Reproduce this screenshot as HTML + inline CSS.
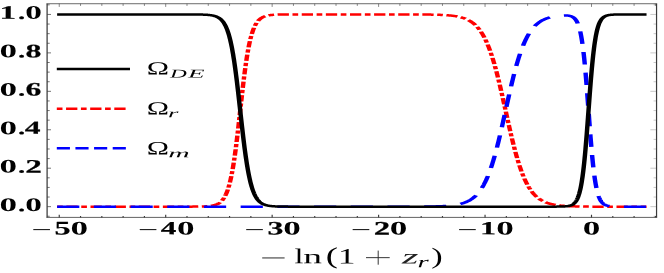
<!DOCTYPE html><html><head><meta charset="utf-8"><style>html,body{margin:0;padding:0;background:#fff}body{width:664px;height:273px;overflow:hidden;font-family:"Liberation Serif",serif}</style></head><body><svg width="664" height="273" viewBox="0 0 664 273" style="display:block;font-family:'Liberation Serif',serif">
<rect width="664" height="273" fill="#fff"/>
<g transform="scale(1.78,1)" fill="none" stroke-width="2.5" stroke-linejoin="round">
<path d="M32.09,206.65 L32.33,206.65 L32.56,206.65 L32.80,206.65 L33.04,206.65 L33.27,206.65 L33.51,206.65 L33.75,206.65 L33.98,206.65 L34.22,206.65 L34.46,206.65 L34.69,206.65 L34.93,206.65 L35.17,206.65 L35.40,206.65 L35.64,206.65 L35.87,206.65 L36.11,206.65 L36.35,206.65 L36.58,206.65 L36.82,206.65 L37.06,206.65 L37.29,206.65 L37.53,206.65 L37.77,206.65 L38.00,206.65 L38.24,206.65 L38.48,206.65 L38.71,206.65 L38.95,206.65 L39.19,206.65 L39.42,206.65 L39.66,206.65 L39.90,206.65 L40.13,206.65 L40.37,206.65 L40.61,206.65 L40.84,206.65 L41.08,206.65 L41.31,206.65 L41.55,206.65 L41.79,206.65 L42.02,206.65 L42.26,206.65 L42.50,206.65 L42.73,206.65 L42.97,206.65 L43.21,206.65 L43.44,206.65 L43.68,206.65 L43.92,206.65 L44.15,206.65 L44.39,206.65 L44.63,206.65 L44.86,206.65 L45.10,206.65 L45.34,206.65 L45.57,206.65 L45.81,206.65 L46.05,206.65 L46.28,206.65 L46.52,206.65 L46.75,206.65 L46.99,206.65 L47.23,206.65 L47.46,206.65 L47.70,206.65 L47.94,206.65 L48.17,206.65 L48.41,206.65 L48.65,206.65 L48.88,206.65 L49.12,206.65 L49.36,206.65 L49.59,206.65 L49.83,206.65 L50.07,206.65 L50.30,206.65 L50.54,206.65 L50.78,206.65 L51.01,206.65 L51.25,206.65 L51.49,206.65 L51.72,206.65 L51.96,206.65 L52.19,206.65 L52.43,206.65 L52.67,206.65 L52.90,206.65 L53.14,206.65 L53.38,206.65 L53.61,206.65 L53.85,206.65 L54.09,206.65 L54.32,206.65 L54.56,206.65 L54.80,206.65 L55.03,206.65 L55.27,206.65 L55.51,206.65 L55.74,206.65 L55.98,206.65 L56.22,206.65 L56.45,206.65 L56.69,206.65 L56.93,206.65 L57.16,206.65 L57.40,206.65 L57.63,206.65 L57.87,206.65 L58.11,206.65 L58.34,206.65 L58.58,206.65 L58.82,206.65 L59.05,206.65 L59.29,206.65 L59.53,206.65 L59.76,206.65 L60.00,206.65 L60.24,206.65 L60.47,206.65 L60.71,206.65 L60.95,206.65 L61.18,206.65 L61.42,206.65 L61.66,206.65 L61.89,206.65 L62.13,206.65 L62.37,206.65 L62.60,206.65 L62.84,206.65 L63.07,206.65 L63.31,206.65 L63.55,206.65 L63.78,206.65 L64.02,206.65 L64.26,206.65 L64.49,206.65 L64.73,206.65 L64.97,206.65 L65.20,206.65 L65.44,206.65 L65.68,206.65 L65.91,206.65 L66.15,206.65 L66.39,206.65 L66.62,206.65 L66.86,206.65 L67.10,206.65 L67.33,206.65 L67.57,206.65 L67.81,206.65 L68.04,206.65 L68.28,206.65 L68.51,206.65 L68.75,206.65 L68.99,206.65 L69.22,206.65 L69.46,206.65 L69.70,206.65 L69.93,206.65 L70.17,206.65 L70.41,206.65 L70.64,206.65 L70.88,206.65 L71.12,206.65 L71.35,206.65 L71.59,206.65 L71.83,206.65 L72.06,206.65 L72.30,206.65 L72.54,206.65 L72.77,206.65 L73.01,206.65 L73.25,206.65 L73.48,206.65 L73.72,206.65 L73.95,206.65 L74.19,206.65 L74.43,206.65 L74.66,206.65 L74.90,206.65 L75.14,206.65 L75.37,206.65 L75.61,206.65 L75.85,206.65 L76.08,206.65 L76.32,206.65 L76.56,206.65 L76.79,206.65 L77.03,206.65 L77.27,206.65 L77.50,206.65 L77.74,206.65 L77.98,206.65 L78.21,206.65 L78.45,206.65 L78.69,206.65 L78.92,206.65 L79.16,206.65 L79.39,206.65 L79.63,206.65 L79.87,206.65 L80.10,206.65 L80.34,206.65 L80.58,206.65 L80.81,206.65 L81.05,206.65 L81.29,206.65 L81.52,206.65 L81.76,206.65 L82.00,206.65 L82.23,206.65 L82.47,206.65 L82.71,206.65 L82.94,206.65 L83.18,206.65 L83.42,206.65 L83.65,206.65 L83.89,206.65 L84.13,206.65 L84.36,206.65 L84.60,206.65 L84.83,206.65 L85.07,206.65 L85.31,206.65 L85.54,206.65 L85.78,206.65 L86.02,206.65 L86.25,206.65 L86.49,206.65 L86.73,206.65 L86.96,206.65 L87.20,206.65 L87.44,206.65 L87.67,206.65 L87.91,206.65 L88.15,206.65 L88.38,206.65 L88.62,206.65 L88.86,206.65 L89.09,206.65 L89.33,206.65 L89.57,206.65 L89.80,206.65 L90.04,206.65 L90.27,206.65 L90.51,206.65 L90.75,206.65 L90.98,206.65 L91.22,206.65 L91.46,206.65 L91.69,206.65 L91.93,206.65 L92.17,206.65 L92.40,206.65 L92.64,206.65 L92.88,206.65 L93.11,206.65 L93.35,206.65 L93.59,206.65 L93.82,206.65 L94.06,206.65 L94.30,206.65 L94.53,206.65 L94.77,206.65 L95.01,206.65 L95.24,206.65 L95.48,206.65 L95.71,206.65 L95.95,206.65 L96.19,206.65 L96.42,206.65 L96.66,206.65 L96.90,206.65 L97.13,206.65 L97.37,206.65 L97.61,206.65 L97.84,206.65 L98.08,206.65 L98.32,206.65 L98.55,206.65 L98.79,206.65 L99.03,206.65 L99.26,206.65 L99.50,206.65 L99.74,206.65 L99.97,206.65 L100.21,206.65 L100.45,206.65 L100.68,206.65 L100.92,206.65 L101.15,206.65 L101.39,206.65 L101.63,206.65 L101.86,206.65 L102.10,206.65 L102.34,206.65 L102.57,206.65 L102.81,206.65 L103.05,206.65 L103.28,206.65 L103.52,206.64 L103.76,206.64 L103.99,206.64 L104.23,206.64 L104.47,206.64 L104.70,206.64 L104.94,206.64 L105.18,206.64 L105.41,206.64 L105.65,206.64 L105.89,206.64 L106.12,206.64 L106.36,206.64 L106.59,206.64 L106.83,206.63 L107.07,206.63 L107.30,206.63 L107.54,206.63 L107.78,206.63 L108.01,206.63 L108.25,206.62 L108.49,206.62 L108.72,206.62 L108.96,206.62 L109.20,206.62 L109.43,206.61 L109.67,206.61 L109.91,206.61 L110.14,206.60 L110.38,206.60 L110.62,206.59 L110.85,206.59 L111.09,206.58 L111.33,206.58 L111.56,206.57 L111.80,206.57 L112.03,206.56 L112.27,206.55 L112.51,206.54 L112.74,206.54 L112.98,206.53 L113.22,206.52 L113.45,206.51 L113.69,206.49 L113.93,206.48 L114.16,206.47 L114.40,206.45 L114.64,206.43 L114.87,206.42 L115.11,206.40 L115.35,206.38 L115.58,206.35 L115.82,206.33 L116.06,206.30 L116.29,206.28 L116.53,206.25 L116.77,206.21 L117.00,206.18 L117.24,206.14 L117.48,206.10 L117.71,206.05 L117.95,206.00 L118.18,205.95 L118.42,205.89 L118.66,205.83 L118.89,205.76 L119.13,205.69 L119.37,205.61 L119.60,205.52 L119.84,205.43 L120.08,205.33 L120.31,205.22 L120.55,205.11 L120.79,204.98 L121.02,204.84 L121.26,204.70 L121.50,204.54 L121.73,204.37 L121.97,204.18 L122.21,203.98 L122.44,203.76 L122.68,203.53 L122.92,203.28 L123.15,203.01 L123.39,202.71 L123.62,202.40 L123.86,202.05 L124.10,201.69 L124.33,201.29 L124.57,200.86 L124.81,200.40 L125.04,199.90 L125.28,199.37 L125.52,198.79 L125.75,198.18 L125.99,197.51 L126.23,196.80 L126.46,196.03 L126.70,195.21 L126.94,194.33 L127.17,193.38 L127.41,192.37 L127.65,191.29 L127.88,190.14 L128.12,188.90 L128.36,187.59 L128.59,186.18 L128.83,184.69 L129.06,183.11 L129.30,181.42 L129.54,179.64 L129.77,177.75 L130.01,175.75 L130.25,173.65 L130.48,171.43 L130.72,169.09 L130.96,166.65 L131.19,164.08 L131.43,161.40 L131.67,158.61 L131.90,155.70 L132.14,152.69 L132.38,149.57 L132.61,146.34 L132.85,143.02 L133.09,139.61 L133.32,136.12 L133.56,132.55 L133.80,128.92 L134.03,125.23 L134.27,121.50 L134.50,117.73 L134.74,113.94 L134.98,110.14 L135.21,106.34 L135.45,102.56 L135.69,98.80 L135.92,95.07 L136.16,91.40 L136.40,87.78 L136.63,84.23 L136.87,80.75 L137.11,77.36 L137.34,74.06 L137.58,70.85 L137.82,67.75 L138.05,64.76 L138.29,61.88 L138.53,59.11 L138.76,56.46 L139.00,53.92 L139.24,51.49 L139.47,49.19 L139.71,46.99 L139.94,44.91 L140.18,42.94 L140.42,41.07 L140.65,39.31 L140.89,37.64 L141.13,36.08 L141.36,34.61 L141.60,33.22 L141.84,31.93 L142.07,30.71 L142.31,29.57 L142.55,28.50 L142.78,27.51 L143.02,26.58 L143.26,25.71 L143.49,24.90 L143.73,24.14 L143.97,23.44 L144.20,22.79 L144.44,22.18 L144.68,21.61 L144.91,21.09 L145.15,20.60 L145.38,20.14 L145.62,19.72 L145.86,19.33 L146.09,18.97 L146.33,18.63 L146.57,18.32 L146.80,18.03 L147.04,17.77 L147.28,17.52 L147.51,17.29 L147.75,17.07 L147.99,16.88 L148.22,16.69 L148.46,16.53 L148.70,16.37 L148.93,16.23 L149.17,16.09 L149.41,15.97 L149.64,15.85 L149.88,15.75 L150.12,15.65 L150.35,15.56 L150.59,15.47 L150.82,15.40 L151.06,15.33 L151.30,15.26 L151.53,15.20 L151.77,15.14 L152.01,15.09 L152.24,15.04 L152.48,15.00 L152.72,14.95 L152.95,14.92 L153.19,14.88 L153.43,14.85 L153.66,14.82 L153.90,14.79 L154.14,14.76 L154.37,14.74 L154.61,14.72 L154.85,14.70 L155.08,14.68 L155.32,14.66 L155.56,14.65 L155.79,14.63 L156.03,14.62 L156.26,14.60 L156.50,14.59 L156.74,14.58 L156.97,14.57 L157.21,14.56 L157.45,14.55 L157.68,14.55 L157.92,14.54 L158.16,14.53 L158.39,14.53 L158.63,14.52 L158.87,14.51 L159.10,14.51 L159.34,14.51 L159.58,14.50 L159.81,14.50 L160.05,14.49 L160.29,14.49 L160.52,14.49 L160.76,14.48 L161.00,14.48 L161.23,14.48 L161.47,14.48 L161.70,14.48 L161.94,14.47 L162.18,14.47 L162.41,14.47 L162.65,14.47 L162.89,14.47 L163.12,14.47 L163.36,14.46 L163.60,14.46 L163.83,14.46 L164.07,14.46 L164.31,14.46 L164.54,14.46 L164.78,14.46 L165.02,14.46 L165.25,14.46 L165.49,14.46 L165.73,14.46 L165.96,14.46 L166.20,14.46 L166.44,14.46 L166.67,14.45 L166.91,14.45 L167.14,14.45 L167.38,14.45 L167.62,14.45 L167.85,14.45 L168.09,14.45 L168.33,14.45 L168.56,14.45 L168.80,14.45 L169.04,14.45 L169.27,14.45 L169.51,14.45 L169.75,14.45 L169.98,14.45 L170.22,14.45 L170.46,14.45 L170.69,14.45 L170.93,14.45 L171.17,14.45 L171.40,14.45 L171.64,14.45 L171.88,14.45 L172.11,14.45 L172.35,14.45 L172.58,14.45 L172.82,14.45 L173.06,14.45 L173.29,14.45 L173.53,14.45 L173.77,14.45 L174.00,14.45 L174.24,14.45 L174.48,14.45 L174.71,14.45 L174.95,14.45 L175.19,14.45 L175.42,14.45 L175.66,14.45 L175.90,14.45 L176.13,14.45 L176.37,14.45 L176.61,14.45 L176.84,14.45 L177.08,14.45 L177.32,14.45 L177.55,14.45 L177.79,14.45 L178.02,14.45 L178.26,14.45 L178.50,14.45 L178.73,14.45 L178.97,14.45 L179.21,14.45 L179.44,14.45 L179.68,14.45 L179.92,14.45 L180.15,14.45 L180.39,14.45 L180.63,14.45 L180.86,14.45 L181.10,14.45 L181.34,14.45 L181.57,14.45 L181.81,14.45 L182.05,14.45 L182.28,14.45 L182.52,14.45 L182.76,14.45 L182.99,14.45 L183.23,14.45 L183.46,14.45 L183.70,14.45 L183.94,14.45 L184.17,14.45 L184.41,14.45 L184.65,14.45 L184.88,14.45 L185.12,14.45 L185.36,14.45 L185.59,14.45 L185.83,14.45 L186.07,14.45 L186.30,14.45 L186.54,14.45 L186.78,14.45 L187.01,14.45 L187.25,14.45 L187.49,14.45 L187.72,14.45 L187.96,14.45 L188.20,14.45 L188.43,14.45 L188.67,14.45 L188.90,14.45 L189.14,14.45 L189.38,14.45 L189.61,14.45 L189.85,14.45 L190.09,14.45 L190.32,14.45 L190.56,14.45 L190.80,14.45 L191.03,14.45 L191.27,14.45 L191.51,14.45 L191.74,14.45 L191.98,14.45 L192.22,14.45 L192.45,14.45 L192.69,14.45 L192.93,14.45 L193.16,14.45 L193.40,14.45 L193.64,14.45 L193.87,14.45 L194.11,14.45 L194.34,14.45 L194.58,14.45 L194.82,14.45 L195.05,14.45 L195.29,14.45 L195.53,14.45 L195.76,14.45 L196.00,14.45 L196.24,14.45 L196.47,14.45 L196.71,14.45 L196.95,14.45 L197.18,14.45 L197.42,14.45 L197.66,14.45 L197.89,14.45 L198.13,14.45 L198.37,14.45 L198.60,14.45 L198.84,14.45 L199.08,14.45 L199.31,14.45 L199.55,14.45 L199.78,14.45 L200.02,14.45 L200.26,14.45 L200.49,14.45 L200.73,14.45 L200.97,14.45 L201.20,14.45 L201.44,14.45 L201.68,14.45 L201.91,14.45 L202.15,14.45 L202.39,14.45 L202.62,14.45 L202.86,14.45 L203.10,14.45 L203.33,14.45 L203.57,14.45 L203.81,14.45 L204.04,14.45 L204.28,14.45 L204.52,14.45 L204.75,14.45 L204.99,14.45 L205.22,14.45 L205.46,14.45 L205.70,14.45 L205.93,14.45 L206.17,14.45 L206.41,14.45 L206.64,14.45 L206.88,14.45 L207.12,14.45 L207.35,14.45 L207.59,14.45 L207.83,14.45 L208.06,14.45 L208.30,14.45 L208.54,14.45 L208.77,14.45 L209.01,14.45 L209.25,14.45 L209.48,14.45 L209.72,14.45 L209.96,14.45 L210.19,14.45 L210.43,14.45 L210.66,14.45 L210.90,14.45 L211.14,14.45 L211.37,14.45 L211.61,14.45 L211.85,14.45 L212.08,14.45 L212.32,14.45 L212.56,14.45 L212.79,14.45 L213.03,14.45 L213.27,14.45 L213.50,14.45 L213.74,14.45 L213.98,14.45 L214.21,14.45 L214.45,14.45 L214.69,14.45 L214.92,14.45 L215.16,14.45 L215.40,14.45 L215.63,14.45 L215.87,14.45 L216.10,14.45 L216.34,14.45 L216.58,14.45 L216.81,14.45 L217.05,14.45 L217.29,14.45 L217.52,14.45 L217.76,14.45 L218.00,14.45 L218.23,14.45 L218.47,14.45 L218.71,14.45 L218.94,14.45 L219.18,14.45 L219.42,14.45 L219.65,14.45 L219.89,14.45 L220.13,14.45 L220.36,14.45 L220.60,14.45 L220.84,14.45 L221.07,14.46 L221.31,14.46 L221.54,14.46 L221.78,14.46 L222.02,14.46 L222.25,14.46 L222.49,14.46 L222.73,14.46 L222.96,14.46 L223.20,14.46 L223.44,14.46 L223.67,14.46 L223.91,14.46 L224.15,14.46 L224.38,14.46 L224.62,14.46 L224.86,14.46 L225.09,14.46 L225.33,14.46 L225.57,14.46 L225.80,14.46 L226.04,14.46 L226.28,14.46 L226.51,14.46 L226.75,14.46 L226.98,14.46 L227.22,14.46 L227.46,14.46 L227.69,14.47 L227.93,14.47 L228.17,14.47 L228.40,14.47 L228.64,14.47 L228.88,14.47 L229.11,14.47 L229.35,14.47 L229.59,14.47 L229.82,14.47 L230.06,14.47 L230.30,14.47 L230.53,14.47 L230.77,14.48 L231.01,14.48 L231.24,14.48 L231.48,14.48 L231.72,14.48 L231.95,14.48 L232.19,14.48 L232.42,14.48 L232.66,14.49 L232.90,14.49 L233.13,14.49 L233.37,14.49 L233.61,14.49 L233.84,14.49 L234.08,14.50 L234.32,14.50 L234.55,14.50 L234.79,14.50 L235.03,14.50 L235.26,14.51 L235.50,14.51 L235.74,14.51 L235.97,14.51 L236.21,14.51 L236.45,14.52 L236.68,14.52 L236.92,14.52 L237.16,14.53 L237.39,14.53 L237.63,14.53 L237.86,14.54 L238.10,14.54 L238.34,14.54 L238.57,14.55 L238.81,14.55 L239.05,14.55 L239.28,14.56 L239.52,14.56 L239.76,14.57 L239.99,14.57 L240.23,14.58 L240.47,14.58 L240.70,14.59 L240.94,14.59 L241.18,14.60 L241.41,14.60 L241.65,14.61 L241.89,14.62 L242.12,14.62 L242.36,14.63 L242.60,14.64 L242.83,14.65 L243.07,14.65 L243.30,14.66 L243.54,14.67 L243.78,14.68 L244.01,14.69 L244.25,14.70 L244.49,14.71 L244.72,14.72 L244.96,14.73 L245.20,14.74 L245.43,14.75 L245.67,14.76 L245.91,14.78 L246.14,14.79 L246.38,14.80 L246.62,14.82 L246.85,14.83 L247.09,14.85 L247.33,14.86 L247.56,14.88 L247.80,14.90 L248.04,14.92 L248.27,14.93 L248.51,14.95 L248.74,14.97 L248.98,15.00 L249.22,15.02 L249.45,15.04 L249.69,15.06 L249.93,15.09 L250.16,15.11 L250.40,15.14 L250.64,15.17 L250.87,15.20 L251.11,15.23 L251.35,15.26 L251.58,15.29 L251.82,15.32 L252.06,15.36 L252.29,15.40 L252.53,15.43 L252.77,15.47 L253.00,15.51 L253.24,15.56 L253.48,15.60 L253.71,15.65 L253.95,15.70 L254.18,15.75 L254.42,15.80 L254.66,15.85 L254.89,15.91 L255.13,15.97 L255.37,16.03 L255.60,16.09 L255.84,16.16 L256.08,16.22 L256.31,16.29 L256.55,16.37 L256.79,16.44 L257.02,16.52 L257.26,16.61 L257.50,16.69 L257.73,16.78 L257.97,16.88 L258.21,16.97 L258.44,17.07 L258.68,17.18 L258.92,17.29 L259.15,17.40 L259.39,17.51 L259.62,17.64 L259.86,17.76 L260.10,17.89 L260.33,18.03 L260.57,18.17 L260.81,18.32 L261.04,18.47 L261.28,18.63 L261.52,18.80 L261.75,18.97 L261.99,19.14 L262.23,19.33 L262.46,19.52 L262.70,19.72 L262.94,19.93 L263.17,20.14 L263.41,20.36 L263.65,20.59 L263.88,20.83 L264.12,21.08 L264.36,21.34 L264.59,21.61 L264.83,21.89 L265.06,22.17 L265.30,22.47 L265.54,22.78 L265.77,23.10 L266.01,23.44 L266.25,23.78 L266.48,24.14 L266.72,24.51 L266.96,24.89 L267.19,25.29 L267.43,25.70 L267.67,26.13 L267.90,26.57 L268.14,27.03 L268.38,27.50 L268.61,27.99 L268.85,28.49 L269.09,29.02 L269.32,29.56 L269.56,30.12 L269.80,30.70 L270.03,31.30 L270.27,31.91 L270.50,32.55 L270.74,33.21 L270.98,33.89 L271.21,34.59 L271.45,35.32 L271.69,36.06 L271.92,36.84 L272.16,37.63 L272.40,38.45 L272.63,39.29 L272.87,40.16 L273.11,41.05 L273.34,41.97 L273.58,42.92 L273.82,43.89 L274.05,44.89 L274.29,45.92 L274.53,46.97 L274.76,48.05 L275.00,49.17 L275.24,50.30 L275.47,51.47 L275.71,52.67 L275.94,53.89 L276.18,55.15 L276.42,56.43 L276.65,57.74 L276.89,59.09 L277.13,60.45 L277.36,61.85 L277.60,63.28 L277.84,64.73 L278.07,66.22 L278.31,67.73 L278.55,69.26 L278.78,70.82 L279.02,72.41 L279.26,74.03 L279.49,75.66 L279.73,77.33 L279.97,79.01 L280.20,80.72 L280.44,82.44 L280.68,84.19 L280.91,85.96 L281.15,87.74 L281.38,89.55 L281.62,91.36 L281.86,93.19 L282.09,95.04 L282.33,96.90 L282.57,98.76 L282.80,100.64 L283.04,102.52 L283.28,104.41 L283.51,106.31 L283.75,108.21 L283.99,110.11 L284.22,112.01 L284.46,113.90 L284.70,115.80 L284.93,117.69 L285.17,119.58 L285.41,121.46 L285.64,123.33 L285.88,125.19 L286.12,127.04 L286.35,128.88 L286.59,130.71 L286.83,132.52 L287.06,134.31 L287.30,136.08 L287.53,137.84 L287.77,139.58 L288.01,141.29 L288.24,142.99 L288.48,144.66 L288.72,146.31 L288.95,147.94 L289.19,149.54 L289.43,151.11 L289.66,152.66 L289.90,154.18 L290.14,155.68 L290.37,157.14 L290.61,158.58 L290.85,159.99 L291.08,161.38 L291.32,162.73 L291.56,164.06 L291.79,165.35 L292.03,166.62 L292.27,167.86 L292.50,169.07 L292.74,170.25 L292.97,171.41 L293.21,172.53 L293.45,173.63 L293.68,174.69 L293.92,175.73 L294.16,176.75 L294.39,177.73 L294.63,178.69 L294.87,179.62 L295.10,180.53 L295.34,181.41 L295.58,182.26 L295.81,183.09 L296.05,183.90 L296.29,184.68 L296.52,185.44 L296.76,186.17 L297.00,186.88 L297.23,187.57 L297.47,188.24 L297.71,188.89 L297.94,189.52 L298.18,190.12 L298.41,190.71 L298.65,191.28 L298.89,191.83 L299.12,192.36 L299.36,192.88 L299.60,193.37 L299.83,193.86 L300.07,194.32 L300.31,194.77 L300.54,195.20 L300.78,195.62 L301.02,196.02 L301.25,196.41 L301.49,196.79 L301.73,197.15 L301.96,197.50 L302.20,197.84 L302.44,198.17 L302.67,198.48 L302.91,198.79 L303.15,199.08 L303.38,199.36 L303.62,199.64 L303.85,199.90 L304.09,200.15 L304.33,200.39 L304.56,200.63 L304.80,200.86 L305.04,201.07 L305.27,201.28 L305.51,201.49 L305.75,201.68 L305.98,201.87 L306.22,202.05 L306.46,202.23 L306.69,202.39 L306.93,202.55 L307.17,202.71 L307.40,202.86 L307.64,203.00 L307.88,203.14 L308.11,203.28 L308.35,203.41 L308.59,203.53 L308.82,203.65 L309.06,203.76 L309.29,203.87 L309.53,203.98 L309.77,204.08 L310.00,204.18 L310.24,204.27 L310.48,204.37 L310.71,204.45 L310.95,204.54 L311.19,204.62 L311.42,204.70 L311.66,204.77 L311.90,204.84 L312.13,204.91 L312.37,204.98 L312.61,205.04 L312.84,205.11 L313.08,205.17 L313.32,205.22 L313.55,205.28 L313.79,205.33 L314.03,205.38 L314.26,205.43 L314.50,205.48 L314.73,205.52 L314.97,205.57 L315.21,205.61 L315.44,205.65 L315.68,205.69 L315.92,205.72 L316.15,205.76 L316.39,205.79 L316.63,205.83 L316.86,205.86 L317.10,205.89 L317.34,205.92 L317.57,205.95 L317.81,205.97 L318.05,206.00 L318.28,206.03 L318.52,206.05 L318.76,206.07 L318.99,206.10 L319.23,206.12 L319.47,206.14 L319.70,206.16 L319.94,206.18 L320.17,206.20 L320.41,206.21 L320.65,206.23 L320.88,206.25 L321.12,206.26 L321.36,206.28 L321.59,206.29 L321.83,206.31 L322.07,206.32 L322.30,206.34 L322.54,206.35 L322.78,206.36 L323.01,206.37 L323.25,206.38 L323.49,206.39 L323.72,206.41 L323.96,206.42 L324.20,206.43 L324.43,206.44 L324.67,206.45 L324.91,206.45 L325.14,206.46 L325.38,206.47 L325.61,206.48 L325.85,206.49 L326.09,206.50 L326.32,206.50 L326.56,206.51 L326.80,206.52 L327.03,206.53 L327.27,206.53 L327.51,206.54 L327.74,206.55 L327.98,206.55 L328.22,206.56 L328.45,206.56 L328.69,206.57 L328.93,206.58 L329.16,206.58 L329.40,206.59 L329.64,206.59 L329.87,206.60 L330.11,206.60 L330.35,206.61 L330.58,206.61 L330.82,206.61 L331.05,206.62 L331.29,206.62 L331.53,206.62 L331.76,206.63 L332.00,206.63 L332.24,206.63 L332.47,206.63 L332.71,206.64 L332.95,206.64 L333.18,206.64 L333.42,206.64 L333.66,206.64 L333.89,206.64 L334.13,206.64 L334.37,206.64 L334.60,206.65 L334.84,206.65 L335.08,206.65 L335.31,206.65 L335.55,206.65 L335.79,206.65 L336.02,206.65 L336.26,206.65 L336.49,206.65 L336.73,206.65 L336.97,206.65 L337.20,206.65 L337.44,206.65 L337.68,206.65 L337.91,206.65 L338.15,206.65 L338.39,206.65 L338.62,206.65 L338.86,206.65 L339.10,206.65 L339.33,206.65 L339.57,206.65 L339.81,206.65 L340.04,206.65 L340.28,206.65 L340.52,206.65 L340.75,206.65 L340.99,206.65 L341.23,206.65 L341.46,206.65 L341.70,206.65 L341.93,206.65 L342.17,206.65 L342.41,206.65 L342.64,206.65 L342.88,206.65 L343.12,206.65 L343.35,206.65 L343.59,206.65 L343.83,206.65 L344.06,206.65 L344.30,206.65 L344.54,206.65 L344.77,206.65 L345.01,206.65 L345.25,206.65 L345.48,206.65 L345.72,206.65 L345.96,206.65 L346.19,206.65 L346.43,206.65 L346.67,206.65 L346.90,206.65 L347.14,206.65 L347.37,206.65 L347.61,206.65 L347.85,206.65 L348.08,206.65 L348.32,206.65 L348.56,206.65 L348.79,206.65 L349.03,206.65 L349.27,206.65 L349.50,206.65 L349.74,206.65 L349.98,206.65 L350.21,206.65 L350.45,206.65 L350.69,206.65 L350.92,206.65 L351.16,206.65 L351.40,206.65 L351.63,206.65 L351.87,206.65 L352.11,206.65 L352.34,206.65 L352.58,206.65 L352.81,206.65 L353.05,206.65 L353.29,206.65 L353.52,206.65 L353.76,206.65 L354.00,206.65 L354.23,206.65 L354.47,206.65 L354.71,206.65 L354.94,206.65 L355.18,206.65 L355.42,206.65 L355.65,206.65 L355.89,206.65 L356.13,206.65 L356.36,206.65 L356.60,206.65 L356.84,206.65 L357.07,206.65 L357.31,206.65 L357.55,206.65 L357.78,206.65 L358.02,206.65 L358.25,206.65 L358.49,206.65 L358.73,206.65 L358.96,206.65 L359.20,206.65 L359.44,206.65 L359.67,206.65 L359.91,206.65 L360.15,206.65 L360.38,206.65 L360.62,206.65 L360.86,206.65 L361.09,206.65 L361.33,206.65 L361.57,206.65 L361.80,206.65 L362.04,206.65 L362.28,206.65 L362.51,206.65 L362.75,206.65 L362.99,206.65 L363.22,206.65" stroke="#f00" stroke-dasharray="3.2 2.0 6.35 2.0"/>
<path d="M32.09,206.65 L32.33,206.65 L32.56,206.65 L32.80,206.65 L33.04,206.65 L33.27,206.65 L33.51,206.65 L33.75,206.65 L33.98,206.65 L34.22,206.65 L34.46,206.65 L34.69,206.65 L34.93,206.65 L35.17,206.65 L35.40,206.65 L35.64,206.65 L35.87,206.65 L36.11,206.65 L36.35,206.65 L36.58,206.65 L36.82,206.65 L37.06,206.65 L37.29,206.65 L37.53,206.65 L37.77,206.65 L38.00,206.65 L38.24,206.65 L38.48,206.65 L38.71,206.65 L38.95,206.65 L39.19,206.65 L39.42,206.65 L39.66,206.65 L39.90,206.65 L40.13,206.65 L40.37,206.65 L40.61,206.65 L40.84,206.65 L41.08,206.65 L41.31,206.65 L41.55,206.65 L41.79,206.65 L42.02,206.65 L42.26,206.65 L42.50,206.65 L42.73,206.65 L42.97,206.65 L43.21,206.65 L43.44,206.65 L43.68,206.65 L43.92,206.65 L44.15,206.65 L44.39,206.65 L44.63,206.65 L44.86,206.65 L45.10,206.65 L45.34,206.65 L45.57,206.65 L45.81,206.65 L46.05,206.65 L46.28,206.65 L46.52,206.65 L46.75,206.65 L46.99,206.65 L47.23,206.65 L47.46,206.65 L47.70,206.65 L47.94,206.65 L48.17,206.65 L48.41,206.65 L48.65,206.65 L48.88,206.65 L49.12,206.65 L49.36,206.65 L49.59,206.65 L49.83,206.65 L50.07,206.65 L50.30,206.65 L50.54,206.65 L50.78,206.65 L51.01,206.65 L51.25,206.65 L51.49,206.65 L51.72,206.65 L51.96,206.65 L52.19,206.65 L52.43,206.65 L52.67,206.65 L52.90,206.65 L53.14,206.65 L53.38,206.65 L53.61,206.65 L53.85,206.65 L54.09,206.65 L54.32,206.65 L54.56,206.65 L54.80,206.65 L55.03,206.65 L55.27,206.65 L55.51,206.65 L55.74,206.65 L55.98,206.65 L56.22,206.65 L56.45,206.65 L56.69,206.65 L56.93,206.65 L57.16,206.65 L57.40,206.65 L57.63,206.65 L57.87,206.65 L58.11,206.65 L58.34,206.65 L58.58,206.65 L58.82,206.65 L59.05,206.65 L59.29,206.65 L59.53,206.65 L59.76,206.65 L60.00,206.65 L60.24,206.65 L60.47,206.65 L60.71,206.65 L60.95,206.65 L61.18,206.65 L61.42,206.65 L61.66,206.65 L61.89,206.65 L62.13,206.65 L62.37,206.65 L62.60,206.65 L62.84,206.65 L63.07,206.65 L63.31,206.65 L63.55,206.65 L63.78,206.65 L64.02,206.65 L64.26,206.65 L64.49,206.65 L64.73,206.65 L64.97,206.65 L65.20,206.65 L65.44,206.65 L65.68,206.65 L65.91,206.65 L66.15,206.65 L66.39,206.65 L66.62,206.65 L66.86,206.65 L67.10,206.65 L67.33,206.65 L67.57,206.65 L67.81,206.65 L68.04,206.65 L68.28,206.65 L68.51,206.65 L68.75,206.65 L68.99,206.65 L69.22,206.65 L69.46,206.65 L69.70,206.65 L69.93,206.65 L70.17,206.65 L70.41,206.65 L70.64,206.65 L70.88,206.65 L71.12,206.65 L71.35,206.65 L71.59,206.65 L71.83,206.65 L72.06,206.65 L72.30,206.65 L72.54,206.65 L72.77,206.65 L73.01,206.65 L73.25,206.65 L73.48,206.65 L73.72,206.65 L73.95,206.65 L74.19,206.65 L74.43,206.65 L74.66,206.65 L74.90,206.65 L75.14,206.65 L75.37,206.65 L75.61,206.65 L75.85,206.65 L76.08,206.65 L76.32,206.65 L76.56,206.65 L76.79,206.65 L77.03,206.65 L77.27,206.65 L77.50,206.65 L77.74,206.65 L77.98,206.65 L78.21,206.65 L78.45,206.65 L78.69,206.65 L78.92,206.65 L79.16,206.65 L79.39,206.65 L79.63,206.65 L79.87,206.65 L80.10,206.65 L80.34,206.65 L80.58,206.65 L80.81,206.65 L81.05,206.65 L81.29,206.65 L81.52,206.65 L81.76,206.65 L82.00,206.65 L82.23,206.65 L82.47,206.65 L82.71,206.65 L82.94,206.65 L83.18,206.65 L83.42,206.65 L83.65,206.65 L83.89,206.65 L84.13,206.65 L84.36,206.65 L84.60,206.65 L84.83,206.65 L85.07,206.65 L85.31,206.65 L85.54,206.65 L85.78,206.65 L86.02,206.65 L86.25,206.65 L86.49,206.65 L86.73,206.65 L86.96,206.65 L87.20,206.65 L87.44,206.65 L87.67,206.65 L87.91,206.65 L88.15,206.65 L88.38,206.65 L88.62,206.65 L88.86,206.65 L89.09,206.65 L89.33,206.65 L89.57,206.65 L89.80,206.65 L90.04,206.65 L90.27,206.65 L90.51,206.65 L90.75,206.65 L90.98,206.65 L91.22,206.65 L91.46,206.65 L91.69,206.65 L91.93,206.65 L92.17,206.65 L92.40,206.65 L92.64,206.65 L92.88,206.65 L93.11,206.65 L93.35,206.65 L93.59,206.65 L93.82,206.65 L94.06,206.65 L94.30,206.65 L94.53,206.65 L94.77,206.65 L95.01,206.65 L95.24,206.65 L95.48,206.65 L95.71,206.65 L95.95,206.65 L96.19,206.65 L96.42,206.65 L96.66,206.65 L96.90,206.65 L97.13,206.65 L97.37,206.65 L97.61,206.65 L97.84,206.65 L98.08,206.65 L98.32,206.65 L98.55,206.65 L98.79,206.65 L99.03,206.65 L99.26,206.65 L99.50,206.65 L99.74,206.65 L99.97,206.65 L100.21,206.65 L100.45,206.65 L100.68,206.65 L100.92,206.65 L101.15,206.65 L101.39,206.65 L101.63,206.65 L101.86,206.65 L102.10,206.65 L102.34,206.65 L102.57,206.65 L102.81,206.65 L103.05,206.65 L103.28,206.65 L103.52,206.65 L103.76,206.65 L103.99,206.65 L104.23,206.65 L104.47,206.65 L104.70,206.65 L104.94,206.65 L105.18,206.65 L105.41,206.65 L105.65,206.65 L105.89,206.65 L106.12,206.65 L106.36,206.65 L106.59,206.65 L106.83,206.65 L107.07,206.65 L107.30,206.65 L107.54,206.65 L107.78,206.65 L108.01,206.65 L108.25,206.65 L108.49,206.65 L108.72,206.65 L108.96,206.65 L109.20,206.65 L109.43,206.65 L109.67,206.65 L109.91,206.65 L110.14,206.65 L110.38,206.65 L110.62,206.65 L110.85,206.65 L111.09,206.65 L111.33,206.65 L111.56,206.65 L111.80,206.65 L112.03,206.65 L112.27,206.65 L112.51,206.65 L112.74,206.65 L112.98,206.65 L113.22,206.65 L113.45,206.65 L113.69,206.65 L113.93,206.65 L114.16,206.65 L114.40,206.65 L114.64,206.65 L114.87,206.65 L115.11,206.65 L115.35,206.65 L115.58,206.65 L115.82,206.65 L116.06,206.65 L116.29,206.65 L116.53,206.65 L116.77,206.65 L117.00,206.65 L117.24,206.65 L117.48,206.65 L117.71,206.65 L117.95,206.65 L118.18,206.65 L118.42,206.65 L118.66,206.65 L118.89,206.65 L119.13,206.65 L119.37,206.65 L119.60,206.65 L119.84,206.65 L120.08,206.65 L120.31,206.65 L120.55,206.65 L120.79,206.65 L121.02,206.65 L121.26,206.65 L121.50,206.65 L121.73,206.65 L121.97,206.65 L122.21,206.65 L122.44,206.65 L122.68,206.65 L122.92,206.65 L123.15,206.65 L123.39,206.65 L123.62,206.65 L123.86,206.65 L124.10,206.65 L124.33,206.65 L124.57,206.65 L124.81,206.65 L125.04,206.65 L125.28,206.65 L125.52,206.65 L125.75,206.65 L125.99,206.65 L126.23,206.65 L126.46,206.65 L126.70,206.65 L126.94,206.65 L127.17,206.65 L127.41,206.65 L127.65,206.65 L127.88,206.65 L128.12,206.65 L128.36,206.65 L128.59,206.65 L128.83,206.65 L129.06,206.65 L129.30,206.65 L129.54,206.65 L129.77,206.65 L130.01,206.65 L130.25,206.65 L130.48,206.65 L130.72,206.65 L130.96,206.65 L131.19,206.65 L131.43,206.65 L131.67,206.65 L131.90,206.65 L132.14,206.65 L132.38,206.65 L132.61,206.65 L132.85,206.65 L133.09,206.65 L133.32,206.65 L133.56,206.65 L133.80,206.65 L134.03,206.65 L134.27,206.65 L134.50,206.65 L134.74,206.65 L134.98,206.65 L135.21,206.65 L135.45,206.65 L135.69,206.65 L135.92,206.65 L136.16,206.65 L136.40,206.65 L136.63,206.65 L136.87,206.65 L137.11,206.65 L137.34,206.65 L137.58,206.65 L137.82,206.65 L138.05,206.65 L138.29,206.65 L138.53,206.65 L138.76,206.65 L139.00,206.65 L139.24,206.65 L139.47,206.65 L139.71,206.65 L139.94,206.65 L140.18,206.65 L140.42,206.65 L140.65,206.65 L140.89,206.65 L141.13,206.65 L141.36,206.65 L141.60,206.65 L141.84,206.65 L142.07,206.65 L142.31,206.65 L142.55,206.65 L142.78,206.65 L143.02,206.65 L143.26,206.65 L143.49,206.65 L143.73,206.65 L143.97,206.65 L144.20,206.65 L144.44,206.65 L144.68,206.65 L144.91,206.65 L145.15,206.65 L145.38,206.65 L145.62,206.65 L145.86,206.65 L146.09,206.65 L146.33,206.65 L146.57,206.65 L146.80,206.65 L147.04,206.65 L147.28,206.65 L147.51,206.65 L147.75,206.65 L147.99,206.65 L148.22,206.65 L148.46,206.65 L148.70,206.65 L148.93,206.65 L149.17,206.65 L149.41,206.65 L149.64,206.65 L149.88,206.65 L150.12,206.65 L150.35,206.65 L150.59,206.65 L150.82,206.65 L151.06,206.65 L151.30,206.65 L151.53,206.65 L151.77,206.65 L152.01,206.65 L152.24,206.65 L152.48,206.65 L152.72,206.65 L152.95,206.65 L153.19,206.65 L153.43,206.65 L153.66,206.65 L153.90,206.65 L154.14,206.65 L154.37,206.65 L154.61,206.65 L154.85,206.65 L155.08,206.65 L155.32,206.65 L155.56,206.65 L155.79,206.65 L156.03,206.65 L156.26,206.65 L156.50,206.65 L156.74,206.65 L156.97,206.65 L157.21,206.65 L157.45,206.65 L157.68,206.65 L157.92,206.65 L158.16,206.65 L158.39,206.65 L158.63,206.65 L158.87,206.65 L159.10,206.65 L159.34,206.65 L159.58,206.65 L159.81,206.65 L160.05,206.65 L160.29,206.65 L160.52,206.65 L160.76,206.65 L161.00,206.65 L161.23,206.65 L161.47,206.65 L161.70,206.65 L161.94,206.65 L162.18,206.65 L162.41,206.65 L162.65,206.65 L162.89,206.65 L163.12,206.65 L163.36,206.65 L163.60,206.65 L163.83,206.65 L164.07,206.65 L164.31,206.65 L164.54,206.65 L164.78,206.65 L165.02,206.65 L165.25,206.65 L165.49,206.65 L165.73,206.65 L165.96,206.65 L166.20,206.65 L166.44,206.65 L166.67,206.65 L166.91,206.65 L167.14,206.65 L167.38,206.65 L167.62,206.65 L167.85,206.65 L168.09,206.65 L168.33,206.65 L168.56,206.65 L168.80,206.65 L169.04,206.65 L169.27,206.65 L169.51,206.65 L169.75,206.65 L169.98,206.65 L170.22,206.65 L170.46,206.65 L170.69,206.65 L170.93,206.65 L171.17,206.65 L171.40,206.65 L171.64,206.65 L171.88,206.65 L172.11,206.65 L172.35,206.65 L172.58,206.65 L172.82,206.65 L173.06,206.65 L173.29,206.65 L173.53,206.65 L173.77,206.65 L174.00,206.65 L174.24,206.65 L174.48,206.65 L174.71,206.65 L174.95,206.65 L175.19,206.65 L175.42,206.65 L175.66,206.65 L175.90,206.65 L176.13,206.65 L176.37,206.65 L176.61,206.65 L176.84,206.65 L177.08,206.65 L177.32,206.65 L177.55,206.65 L177.79,206.65 L178.02,206.65 L178.26,206.65 L178.50,206.65 L178.73,206.65 L178.97,206.65 L179.21,206.65 L179.44,206.65 L179.68,206.65 L179.92,206.65 L180.15,206.65 L180.39,206.65 L180.63,206.65 L180.86,206.65 L181.10,206.65 L181.34,206.65 L181.57,206.65 L181.81,206.65 L182.05,206.65 L182.28,206.65 L182.52,206.65 L182.76,206.65 L182.99,206.65 L183.23,206.65 L183.46,206.65 L183.70,206.65 L183.94,206.65 L184.17,206.65 L184.41,206.65 L184.65,206.65 L184.88,206.65 L185.12,206.65 L185.36,206.65 L185.59,206.65 L185.83,206.65 L186.07,206.65 L186.30,206.65 L186.54,206.65 L186.78,206.65 L187.01,206.65 L187.25,206.65 L187.49,206.65 L187.72,206.65 L187.96,206.65 L188.20,206.65 L188.43,206.65 L188.67,206.65 L188.90,206.65 L189.14,206.65 L189.38,206.65 L189.61,206.65 L189.85,206.65 L190.09,206.65 L190.32,206.65 L190.56,206.65 L190.80,206.65 L191.03,206.65 L191.27,206.65 L191.51,206.65 L191.74,206.65 L191.98,206.65 L192.22,206.65 L192.45,206.65 L192.69,206.65 L192.93,206.65 L193.16,206.65 L193.40,206.65 L193.64,206.65 L193.87,206.65 L194.11,206.65 L194.34,206.65 L194.58,206.65 L194.82,206.65 L195.05,206.65 L195.29,206.65 L195.53,206.65 L195.76,206.65 L196.00,206.65 L196.24,206.65 L196.47,206.65 L196.71,206.65 L196.95,206.65 L197.18,206.65 L197.42,206.65 L197.66,206.65 L197.89,206.65 L198.13,206.65 L198.37,206.65 L198.60,206.65 L198.84,206.65 L199.08,206.65 L199.31,206.65 L199.55,206.65 L199.78,206.65 L200.02,206.65 L200.26,206.65 L200.49,206.65 L200.73,206.65 L200.97,206.65 L201.20,206.65 L201.44,206.65 L201.68,206.65 L201.91,206.65 L202.15,206.65 L202.39,206.65 L202.62,206.65 L202.86,206.65 L203.10,206.65 L203.33,206.65 L203.57,206.65 L203.81,206.65 L204.04,206.65 L204.28,206.65 L204.52,206.65 L204.75,206.65 L204.99,206.65 L205.22,206.65 L205.46,206.65 L205.70,206.65 L205.93,206.65 L206.17,206.65 L206.41,206.65 L206.64,206.65 L206.88,206.65 L207.12,206.65 L207.35,206.65 L207.59,206.65 L207.83,206.65 L208.06,206.65 L208.30,206.65 L208.54,206.65 L208.77,206.65 L209.01,206.65 L209.25,206.65 L209.48,206.65 L209.72,206.65 L209.96,206.65 L210.19,206.65 L210.43,206.65 L210.66,206.65 L210.90,206.65 L211.14,206.65 L211.37,206.65 L211.61,206.65 L211.85,206.65 L212.08,206.65 L212.32,206.65 L212.56,206.65 L212.79,206.65 L213.03,206.65 L213.27,206.65 L213.50,206.65 L213.74,206.65 L213.98,206.65 L214.21,206.65 L214.45,206.65 L214.69,206.65 L214.92,206.65 L215.16,206.65 L215.40,206.65 L215.63,206.65 L215.87,206.65 L216.10,206.65 L216.34,206.65 L216.58,206.65 L216.81,206.65 L217.05,206.65 L217.29,206.65 L217.52,206.65 L217.76,206.65 L218.00,206.65 L218.23,206.65 L218.47,206.65 L218.71,206.65 L218.94,206.65 L219.18,206.65 L219.42,206.65 L219.65,206.65 L219.89,206.65 L220.13,206.65 L220.36,206.65 L220.60,206.65 L220.84,206.65 L221.07,206.64 L221.31,206.64 L221.54,206.64 L221.78,206.64 L222.02,206.64 L222.25,206.64 L222.49,206.64 L222.73,206.64 L222.96,206.64 L223.20,206.64 L223.44,206.64 L223.67,206.64 L223.91,206.64 L224.15,206.64 L224.38,206.64 L224.62,206.64 L224.86,206.64 L225.09,206.64 L225.33,206.64 L225.57,206.64 L225.80,206.64 L226.04,206.64 L226.28,206.64 L226.51,206.64 L226.75,206.64 L226.98,206.64 L227.22,206.64 L227.46,206.64 L227.69,206.63 L227.93,206.63 L228.17,206.63 L228.40,206.63 L228.64,206.63 L228.88,206.63 L229.11,206.63 L229.35,206.63 L229.59,206.63 L229.82,206.63 L230.06,206.63 L230.30,206.63 L230.53,206.63 L230.77,206.62 L231.01,206.62 L231.24,206.62 L231.48,206.62 L231.72,206.62 L231.95,206.62 L232.19,206.62 L232.42,206.62 L232.66,206.61 L232.90,206.61 L233.13,206.61 L233.37,206.61 L233.61,206.61 L233.84,206.61 L234.08,206.60 L234.32,206.60 L234.55,206.60 L234.79,206.60 L235.03,206.60 L235.26,206.59 L235.50,206.59 L235.74,206.59 L235.97,206.59 L236.21,206.59 L236.45,206.58 L236.68,206.58 L236.92,206.58 L237.16,206.57 L237.39,206.57 L237.63,206.57 L237.86,206.56 L238.10,206.56 L238.34,206.56 L238.57,206.55 L238.81,206.55 L239.05,206.55 L239.28,206.54 L239.52,206.54 L239.76,206.53 L239.99,206.53 L240.23,206.52 L240.47,206.52 L240.70,206.51 L240.94,206.51 L241.18,206.50 L241.41,206.50 L241.65,206.49 L241.89,206.48 L242.12,206.48 L242.36,206.47 L242.60,206.46 L242.83,206.45 L243.07,206.45 L243.30,206.44 L243.54,206.43 L243.78,206.42 L244.01,206.41 L244.25,206.40 L244.49,206.39 L244.72,206.38 L244.96,206.37 L245.20,206.36 L245.43,206.35 L245.67,206.34 L245.91,206.32 L246.14,206.31 L246.38,206.30 L246.62,206.28 L246.85,206.27 L247.09,206.25 L247.33,206.24 L247.56,206.22 L247.80,206.20 L248.04,206.18 L248.27,206.17 L248.51,206.15 L248.74,206.13 L248.98,206.10 L249.22,206.08 L249.45,206.06 L249.69,206.04 L249.93,206.01 L250.16,205.99 L250.40,205.96 L250.64,205.93 L250.87,205.90 L251.11,205.87 L251.35,205.84 L251.58,205.81 L251.82,205.78 L252.06,205.74 L252.29,205.70 L252.53,205.67 L252.77,205.63 L253.00,205.59 L253.24,205.54 L253.48,205.50 L253.71,205.45 L253.95,205.40 L254.18,205.35 L254.42,205.30 L254.66,205.25 L254.89,205.19 L255.13,205.13 L255.37,205.07 L255.60,205.01 L255.84,204.94 L256.08,204.88 L256.31,204.81 L256.55,204.73 L256.79,204.66 L257.02,204.58 L257.26,204.49 L257.50,204.41 L257.73,204.32 L257.97,204.22 L258.21,204.13 L258.44,204.03 L258.68,203.92 L258.92,203.81 L259.15,203.70 L259.39,203.59 L259.62,203.46 L259.86,203.34 L260.10,203.21 L260.33,203.07 L260.57,202.93 L260.81,202.78 L261.04,202.63 L261.28,202.47 L261.52,202.30 L261.75,202.13 L261.99,201.96 L262.23,201.77 L262.46,201.58 L262.70,201.38 L262.94,201.17 L263.17,200.96 L263.41,200.74 L263.65,200.51 L263.88,200.27 L264.12,200.02 L264.36,199.76 L264.59,199.49 L264.83,199.21 L265.06,198.93 L265.30,198.63 L265.54,198.32 L265.77,198.00 L266.01,197.66 L266.25,197.32 L266.48,196.96 L266.72,196.59 L266.96,196.21 L267.19,195.81 L267.43,195.40 L267.67,194.97 L267.90,194.53 L268.14,194.07 L268.38,193.60 L268.61,193.11 L268.85,192.61 L269.09,192.08 L269.32,191.54 L269.56,190.98 L269.80,190.40 L270.03,189.80 L270.27,189.19 L270.50,188.55 L270.74,187.89 L270.98,187.21 L271.21,186.51 L271.45,185.78 L271.69,185.04 L271.92,184.26 L272.16,183.47 L272.40,182.65 L272.63,181.81 L272.87,180.94 L273.11,180.05 L273.34,179.13 L273.58,178.18 L273.82,177.21 L274.05,176.21 L274.29,175.18 L274.53,174.13 L274.76,173.05 L275.00,171.93 L275.24,170.80 L275.47,169.63 L275.71,168.43 L275.94,167.21 L276.18,165.95 L276.42,164.67 L276.65,163.36 L276.89,162.01 L277.13,160.65 L277.36,159.25 L277.60,157.82 L277.84,156.37 L278.07,154.88 L278.31,153.37 L278.55,151.84 L278.78,150.28 L279.02,148.69 L279.26,147.07 L279.49,145.44 L279.73,143.77 L279.97,142.09 L280.20,140.38 L280.44,138.66 L280.68,136.91 L280.91,135.14 L281.15,133.36 L281.38,131.55 L281.62,129.74 L281.86,127.91 L282.09,126.06 L282.33,124.20 L282.57,122.34 L282.80,120.46 L283.04,118.58 L283.28,116.69 L283.51,114.79 L283.75,112.89 L283.99,110.99 L284.22,109.09 L284.46,107.20 L284.70,105.30 L284.93,103.41 L285.17,101.52 L285.41,99.64 L285.64,97.77 L285.88,95.91 L286.12,94.06 L286.35,92.22 L286.59,90.39 L286.83,88.58 L287.06,86.79 L287.30,85.02 L287.53,83.26 L287.77,81.52 L288.01,79.81 L288.24,78.11 L288.48,76.44 L288.72,74.79 L288.95,73.16 L289.19,71.56 L289.43,69.99 L289.66,68.44 L289.90,66.92 L290.14,65.42 L290.37,63.96 L290.61,62.52 L290.85,61.11 L291.08,59.72 L291.32,58.37 L291.56,57.04 L291.79,55.75 L292.03,54.48 L292.27,53.24 L292.50,52.03 L292.74,50.85 L292.97,49.69 L293.21,48.57 L293.45,47.47 L293.68,46.41 L293.92,45.37 L294.16,44.35 L294.39,43.37 L294.63,42.41 L294.87,41.48 L295.10,40.57 L295.34,39.69 L295.58,38.84 L295.81,38.01 L296.05,37.20 L296.29,36.42 L296.52,35.66 L296.76,34.93 L297.00,34.22 L297.23,33.53 L297.47,32.86 L297.71,32.21 L297.94,31.58 L298.18,30.98 L298.41,30.39 L298.65,29.82 L298.89,29.27 L299.12,28.74 L299.36,28.22 L299.60,27.73 L299.83,27.24 L300.07,26.78 L300.31,26.33 L300.54,25.90 L300.78,25.48 L301.02,25.08 L301.25,24.69 L301.49,24.31 L301.73,23.95 L301.96,23.60 L302.20,23.26 L302.44,22.93 L302.67,22.62 L302.91,22.31 L303.15,22.02 L303.38,21.74 L303.62,21.46 L303.85,21.20 L304.09,20.95 L304.33,20.71 L304.56,20.47 L304.80,20.24 L305.04,20.03 L305.27,19.82 L305.51,19.61 L305.75,19.42 L305.98,19.23 L306.22,19.05 L306.46,18.88 L306.69,18.71 L306.93,18.55 L307.17,18.39 L307.40,18.24 L307.64,18.10 L307.88,17.96 L308.11,17.83 L308.35,17.70 L308.59,17.57 L308.82,17.46 L309.06,17.34 L309.29,17.23 L309.53,17.13 L309.77,17.02 L310.00,16.93 L310.24,16.83 L310.48,16.74 L310.71,16.66 L310.95,16.57 L311.19,16.49 L311.42,16.42 L311.66,16.34 L311.90,16.27 L312.13,16.20 L312.37,16.14 L312.61,16.08 L312.84,16.02 L313.08,15.96 L313.32,15.91 L313.55,15.86 L313.79,15.81 L314.03,15.76 L314.26,15.72 L314.50,15.68 L314.73,15.64 L314.97,15.61 L315.21,15.58 L315.44,15.55 L315.68,15.52 L315.92,15.50 L316.15,15.47 L316.39,15.46 L316.63,15.44 L316.86,15.43 L317.10,15.43 L317.34,15.42 L317.57,15.43 L317.81,15.43 L318.05,15.45 L318.28,15.46 L318.52,15.49 L318.76,15.52 L318.99,15.56 L319.23,15.61 L319.47,15.67 L319.70,15.74 L319.94,15.82 L320.17,15.91 L320.41,16.02 L320.65,16.14 L320.88,16.29 L321.12,16.45 L321.36,16.64 L321.59,16.85 L321.83,17.09 L322.07,17.36 L322.30,17.67 L322.54,18.01 L322.78,18.40 L323.01,18.84 L323.25,19.34 L323.49,19.89 L323.72,20.52 L323.96,21.22 L324.20,22.00 L324.43,22.87 L324.67,23.85 L324.91,24.94 L325.14,26.15 L325.38,27.49 L325.61,28.98 L325.85,30.63 L326.09,32.46 L326.32,34.47 L326.56,36.67 L326.80,39.09 L327.03,41.74 L327.27,44.62 L327.51,47.75 L327.74,51.13 L327.98,54.76 L328.22,58.66 L328.45,62.82 L328.69,67.23 L328.93,71.88 L329.16,76.76 L329.40,81.85 L329.64,87.13 L329.87,92.56 L330.11,98.11 L330.35,103.75 L330.58,109.43 L330.82,115.13 L331.05,120.79 L331.29,126.38 L331.53,131.87 L331.76,137.21 L332.00,142.38 L332.24,147.35 L332.47,152.10 L332.71,156.61 L332.95,160.88 L333.18,164.89 L333.42,168.63 L333.66,172.12 L333.89,175.36 L334.13,178.34 L334.37,181.09 L334.60,183.61 L334.84,185.91 L335.08,188.00 L335.31,189.91 L335.55,191.63 L335.79,193.20 L336.02,194.61 L336.26,195.88 L336.49,197.02 L336.73,198.05 L336.97,198.98 L337.20,199.80 L337.44,200.55 L337.68,201.21 L337.91,201.80 L338.15,202.33 L338.39,202.81 L338.62,203.23 L338.86,203.60 L339.10,203.94 L339.33,204.24 L339.57,204.51 L339.81,204.74 L340.04,204.96 L340.28,205.14 L340.52,205.31 L340.75,205.46 L340.99,205.59 L341.23,205.71 L341.46,205.81 L341.70,205.91 L341.93,205.99 L342.17,206.06 L342.41,206.13 L342.64,206.19 L342.88,206.24 L343.12,206.29 L343.35,206.33 L343.59,206.36 L343.83,206.39 L344.06,206.42 L344.30,206.45 L344.54,206.47 L344.77,206.49 L345.01,206.51 L345.25,206.52 L345.48,206.54 L345.72,206.55 L345.96,206.56 L346.19,206.57 L346.43,206.58 L346.67,206.59 L346.90,206.60 L347.14,206.60 L347.37,206.61 L347.61,206.61 L347.85,206.62 L348.08,206.62 L348.32,206.62 L348.56,206.63 L348.79,206.63 L349.03,206.63 L349.27,206.63 L349.50,206.64 L349.74,206.64 L349.98,206.64 L350.21,206.64 L350.45,206.64 L350.69,206.64 L350.92,206.64 L351.16,206.64 L351.40,206.64 L351.63,206.64 L351.87,206.65 L352.11,206.65 L352.34,206.65 L352.58,206.65 L352.81,206.65 L353.05,206.65 L353.29,206.65 L353.52,206.65 L353.76,206.65 L354.00,206.65 L354.23,206.65 L354.47,206.65 L354.71,206.65 L354.94,206.65 L355.18,206.65 L355.42,206.65 L355.65,206.65 L355.89,206.65 L356.13,206.65 L356.36,206.65 L356.60,206.65 L356.84,206.65 L357.07,206.65 L357.31,206.65 L357.55,206.65 L357.78,206.65 L358.02,206.65 L358.25,206.65 L358.49,206.65 L358.73,206.65 L358.96,206.65 L359.20,206.65 L359.44,206.65 L359.67,206.65 L359.91,206.65 L360.15,206.65 L360.38,206.65 L360.62,206.65 L360.86,206.65 L361.09,206.65 L361.33,206.65 L361.57,206.65 L361.80,206.65 L362.04,206.65 L362.28,206.65 L362.51,206.65 L362.75,206.65 L362.99,206.65 L363.22,206.65" stroke="#00f" stroke-dasharray="12.48 8.14"/>
<path d="M32.09,14.45 L32.33,14.45 L32.56,14.45 L32.80,14.45 L33.04,14.45 L33.27,14.45 L33.51,14.45 L33.75,14.45 L33.98,14.45 L34.22,14.45 L34.46,14.45 L34.69,14.45 L34.93,14.45 L35.17,14.45 L35.40,14.45 L35.64,14.45 L35.87,14.45 L36.11,14.45 L36.35,14.45 L36.58,14.45 L36.82,14.45 L37.06,14.45 L37.29,14.45 L37.53,14.45 L37.77,14.45 L38.00,14.45 L38.24,14.45 L38.48,14.45 L38.71,14.45 L38.95,14.45 L39.19,14.45 L39.42,14.45 L39.66,14.45 L39.90,14.45 L40.13,14.45 L40.37,14.45 L40.61,14.45 L40.84,14.45 L41.08,14.45 L41.31,14.45 L41.55,14.45 L41.79,14.45 L42.02,14.45 L42.26,14.45 L42.50,14.45 L42.73,14.45 L42.97,14.45 L43.21,14.45 L43.44,14.45 L43.68,14.45 L43.92,14.45 L44.15,14.45 L44.39,14.45 L44.63,14.45 L44.86,14.45 L45.10,14.45 L45.34,14.45 L45.57,14.45 L45.81,14.45 L46.05,14.45 L46.28,14.45 L46.52,14.45 L46.75,14.45 L46.99,14.45 L47.23,14.45 L47.46,14.45 L47.70,14.45 L47.94,14.45 L48.17,14.45 L48.41,14.45 L48.65,14.45 L48.88,14.45 L49.12,14.45 L49.36,14.45 L49.59,14.45 L49.83,14.45 L50.07,14.45 L50.30,14.45 L50.54,14.45 L50.78,14.45 L51.01,14.45 L51.25,14.45 L51.49,14.45 L51.72,14.45 L51.96,14.45 L52.19,14.45 L52.43,14.45 L52.67,14.45 L52.90,14.45 L53.14,14.45 L53.38,14.45 L53.61,14.45 L53.85,14.45 L54.09,14.45 L54.32,14.45 L54.56,14.45 L54.80,14.45 L55.03,14.45 L55.27,14.45 L55.51,14.45 L55.74,14.45 L55.98,14.45 L56.22,14.45 L56.45,14.45 L56.69,14.45 L56.93,14.45 L57.16,14.45 L57.40,14.45 L57.63,14.45 L57.87,14.45 L58.11,14.45 L58.34,14.45 L58.58,14.45 L58.82,14.45 L59.05,14.45 L59.29,14.45 L59.53,14.45 L59.76,14.45 L60.00,14.45 L60.24,14.45 L60.47,14.45 L60.71,14.45 L60.95,14.45 L61.18,14.45 L61.42,14.45 L61.66,14.45 L61.89,14.45 L62.13,14.45 L62.37,14.45 L62.60,14.45 L62.84,14.45 L63.07,14.45 L63.31,14.45 L63.55,14.45 L63.78,14.45 L64.02,14.45 L64.26,14.45 L64.49,14.45 L64.73,14.45 L64.97,14.45 L65.20,14.45 L65.44,14.45 L65.68,14.45 L65.91,14.45 L66.15,14.45 L66.39,14.45 L66.62,14.45 L66.86,14.45 L67.10,14.45 L67.33,14.45 L67.57,14.45 L67.81,14.45 L68.04,14.45 L68.28,14.45 L68.51,14.45 L68.75,14.45 L68.99,14.45 L69.22,14.45 L69.46,14.45 L69.70,14.45 L69.93,14.45 L70.17,14.45 L70.41,14.45 L70.64,14.45 L70.88,14.45 L71.12,14.45 L71.35,14.45 L71.59,14.45 L71.83,14.45 L72.06,14.45 L72.30,14.45 L72.54,14.45 L72.77,14.45 L73.01,14.45 L73.25,14.45 L73.48,14.45 L73.72,14.45 L73.95,14.45 L74.19,14.45 L74.43,14.45 L74.66,14.45 L74.90,14.45 L75.14,14.45 L75.37,14.45 L75.61,14.45 L75.85,14.45 L76.08,14.45 L76.32,14.45 L76.56,14.45 L76.79,14.45 L77.03,14.45 L77.27,14.45 L77.50,14.45 L77.74,14.45 L77.98,14.45 L78.21,14.45 L78.45,14.45 L78.69,14.45 L78.92,14.45 L79.16,14.45 L79.39,14.45 L79.63,14.45 L79.87,14.45 L80.10,14.45 L80.34,14.45 L80.58,14.45 L80.81,14.45 L81.05,14.45 L81.29,14.45 L81.52,14.45 L81.76,14.45 L82.00,14.45 L82.23,14.45 L82.47,14.45 L82.71,14.45 L82.94,14.45 L83.18,14.45 L83.42,14.45 L83.65,14.45 L83.89,14.45 L84.13,14.45 L84.36,14.45 L84.60,14.45 L84.83,14.45 L85.07,14.45 L85.31,14.45 L85.54,14.45 L85.78,14.45 L86.02,14.45 L86.25,14.45 L86.49,14.45 L86.73,14.45 L86.96,14.45 L87.20,14.45 L87.44,14.45 L87.67,14.45 L87.91,14.45 L88.15,14.45 L88.38,14.45 L88.62,14.45 L88.86,14.45 L89.09,14.45 L89.33,14.45 L89.57,14.45 L89.80,14.45 L90.04,14.45 L90.27,14.45 L90.51,14.45 L90.75,14.45 L90.98,14.45 L91.22,14.45 L91.46,14.45 L91.69,14.45 L91.93,14.45 L92.17,14.45 L92.40,14.45 L92.64,14.45 L92.88,14.45 L93.11,14.45 L93.35,14.45 L93.59,14.45 L93.82,14.45 L94.06,14.45 L94.30,14.45 L94.53,14.45 L94.77,14.45 L95.01,14.45 L95.24,14.45 L95.48,14.45 L95.71,14.45 L95.95,14.45 L96.19,14.45 L96.42,14.45 L96.66,14.45 L96.90,14.45 L97.13,14.45 L97.37,14.45 L97.61,14.45 L97.84,14.45 L98.08,14.45 L98.32,14.45 L98.55,14.45 L98.79,14.45 L99.03,14.45 L99.26,14.45 L99.50,14.45 L99.74,14.45 L99.97,14.45 L100.21,14.45 L100.45,14.45 L100.68,14.45 L100.92,14.45 L101.15,14.45 L101.39,14.45 L101.63,14.45 L101.86,14.45 L102.10,14.45 L102.34,14.45 L102.57,14.45 L102.81,14.45 L103.05,14.45 L103.28,14.45 L103.52,14.46 L103.76,14.46 L103.99,14.46 L104.23,14.46 L104.47,14.46 L104.70,14.46 L104.94,14.46 L105.18,14.46 L105.41,14.46 L105.65,14.46 L105.89,14.46 L106.12,14.46 L106.36,14.46 L106.59,14.46 L106.83,14.47 L107.07,14.47 L107.30,14.47 L107.54,14.47 L107.78,14.47 L108.01,14.47 L108.25,14.48 L108.49,14.48 L108.72,14.48 L108.96,14.48 L109.20,14.48 L109.43,14.49 L109.67,14.49 L109.91,14.49 L110.14,14.50 L110.38,14.50 L110.62,14.51 L110.85,14.51 L111.09,14.52 L111.33,14.52 L111.56,14.53 L111.80,14.53 L112.03,14.54 L112.27,14.55 L112.51,14.56 L112.74,14.56 L112.98,14.57 L113.22,14.58 L113.45,14.59 L113.69,14.61 L113.93,14.62 L114.16,14.63 L114.40,14.65 L114.64,14.67 L114.87,14.68 L115.11,14.70 L115.35,14.72 L115.58,14.75 L115.82,14.77 L116.06,14.80 L116.29,14.82 L116.53,14.85 L116.77,14.89 L117.00,14.92 L117.24,14.96 L117.48,15.00 L117.71,15.05 L117.95,15.10 L118.18,15.15 L118.42,15.21 L118.66,15.27 L118.89,15.34 L119.13,15.41 L119.37,15.49 L119.60,15.58 L119.84,15.67 L120.08,15.77 L120.31,15.88 L120.55,15.99 L120.79,16.12 L121.02,16.26 L121.26,16.40 L121.50,16.56 L121.73,16.73 L121.97,16.92 L122.21,17.12 L122.44,17.34 L122.68,17.57 L122.92,17.82 L123.15,18.09 L123.39,18.39 L123.62,18.70 L123.86,19.05 L124.10,19.41 L124.33,19.81 L124.57,20.24 L124.81,20.70 L125.04,21.20 L125.28,21.73 L125.52,22.31 L125.75,22.92 L125.99,23.59 L126.23,24.30 L126.46,25.07 L126.70,25.89 L126.94,26.77 L127.17,27.72 L127.41,28.73 L127.65,29.81 L127.88,30.96 L128.12,32.20 L128.36,33.51 L128.59,34.92 L128.83,36.41 L129.06,37.99 L129.30,39.68 L129.54,41.46 L129.77,43.35 L130.01,45.35 L130.25,47.45 L130.48,49.67 L130.72,52.01 L130.96,54.45 L131.19,57.02 L131.43,59.70 L131.67,62.49 L131.90,65.40 L132.14,68.41 L132.38,71.53 L132.61,74.76 L132.85,78.08 L133.09,81.49 L133.32,84.98 L133.56,88.55 L133.80,92.18 L134.03,95.87 L134.27,99.60 L134.50,103.37 L134.74,107.16 L134.98,110.96 L135.21,114.76 L135.45,118.54 L135.69,122.30 L135.92,126.03 L136.16,129.70 L136.40,133.32 L136.63,136.87 L136.87,140.35 L137.11,143.74 L137.34,147.04 L137.58,150.25 L137.82,153.35 L138.05,156.34 L138.29,159.22 L138.53,161.99 L138.76,164.64 L139.00,167.18 L139.24,169.61 L139.47,171.91 L139.71,174.11 L139.94,176.19 L140.18,178.16 L140.42,180.03 L140.65,181.79 L140.89,183.46 L141.13,185.02 L141.36,186.49 L141.60,187.88 L141.84,189.17 L142.07,190.39 L142.31,191.53 L142.55,192.60 L142.78,193.59 L143.02,194.52 L143.26,195.39 L143.49,196.20 L143.73,196.96 L143.97,197.66 L144.20,198.31 L144.44,198.92 L144.68,199.49 L144.91,200.01 L145.15,200.50 L145.38,200.96 L145.62,201.38 L145.86,201.77 L146.09,202.13 L146.33,202.47 L146.57,202.78 L146.80,203.07 L147.04,203.33 L147.28,203.58 L147.51,203.81 L147.75,204.03 L147.99,204.22 L148.22,204.41 L148.46,204.57 L148.70,204.73 L148.93,204.87 L149.17,205.01 L149.41,205.13 L149.64,205.25 L149.88,205.35 L150.12,205.45 L150.35,205.54 L150.59,205.63 L150.82,205.70 L151.06,205.77 L151.30,205.84 L151.53,205.90 L151.77,205.96 L152.01,206.01 L152.24,206.06 L152.48,206.10 L152.72,206.15 L152.95,206.18 L153.19,206.22 L153.43,206.25 L153.66,206.28 L153.90,206.31 L154.14,206.34 L154.37,206.36 L154.61,206.38 L154.85,206.40 L155.08,206.42 L155.32,206.44 L155.56,206.45 L155.79,206.47 L156.03,206.48 L156.26,206.50 L156.50,206.51 L156.74,206.52 L156.97,206.53 L157.21,206.54 L157.45,206.55 L157.68,206.55 L157.92,206.56 L158.16,206.57 L158.39,206.57 L158.63,206.58 L158.87,206.59 L159.10,206.59 L159.34,206.59 L159.58,206.60 L159.81,206.60 L160.05,206.61 L160.29,206.61 L160.52,206.61 L160.76,206.62 L161.00,206.62 L161.23,206.62 L161.47,206.62 L161.70,206.62 L161.94,206.63 L162.18,206.63 L162.41,206.63 L162.65,206.63 L162.89,206.63 L163.12,206.63 L163.36,206.64 L163.60,206.64 L163.83,206.64 L164.07,206.64 L164.31,206.64 L164.54,206.64 L164.78,206.64 L165.02,206.64 L165.25,206.64 L165.49,206.64 L165.73,206.64 L165.96,206.64 L166.20,206.64 L166.44,206.64 L166.67,206.65 L166.91,206.65 L167.14,206.65 L167.38,206.65 L167.62,206.65 L167.85,206.65 L168.09,206.65 L168.33,206.65 L168.56,206.65 L168.80,206.65 L169.04,206.65 L169.27,206.65 L169.51,206.65 L169.75,206.65 L169.98,206.65 L170.22,206.65 L170.46,206.65 L170.69,206.65 L170.93,206.65 L171.17,206.65 L171.40,206.65 L171.64,206.65 L171.88,206.65 L172.11,206.65 L172.35,206.65 L172.58,206.65 L172.82,206.65 L173.06,206.65 L173.29,206.65 L173.53,206.65 L173.77,206.65 L174.00,206.65 L174.24,206.65 L174.48,206.65 L174.71,206.65 L174.95,206.65 L175.19,206.65 L175.42,206.65 L175.66,206.65 L175.90,206.65 L176.13,206.65 L176.37,206.65 L176.61,206.65 L176.84,206.65 L177.08,206.65 L177.32,206.65 L177.55,206.65 L177.79,206.65 L178.02,206.65 L178.26,206.65 L178.50,206.65 L178.73,206.65 L178.97,206.65 L179.21,206.65 L179.44,206.65 L179.68,206.65 L179.92,206.65 L180.15,206.65 L180.39,206.65 L180.63,206.65 L180.86,206.65 L181.10,206.65 L181.34,206.65 L181.57,206.65 L181.81,206.65 L182.05,206.65 L182.28,206.65 L182.52,206.65 L182.76,206.65 L182.99,206.65 L183.23,206.65 L183.46,206.65 L183.70,206.65 L183.94,206.65 L184.17,206.65 L184.41,206.65 L184.65,206.65 L184.88,206.65 L185.12,206.65 L185.36,206.65 L185.59,206.65 L185.83,206.65 L186.07,206.65 L186.30,206.65 L186.54,206.65 L186.78,206.65 L187.01,206.65 L187.25,206.65 L187.49,206.65 L187.72,206.65 L187.96,206.65 L188.20,206.65 L188.43,206.65 L188.67,206.65 L188.90,206.65 L189.14,206.65 L189.38,206.65 L189.61,206.65 L189.85,206.65 L190.09,206.65 L190.32,206.65 L190.56,206.65 L190.80,206.65 L191.03,206.65 L191.27,206.65 L191.51,206.65 L191.74,206.65 L191.98,206.65 L192.22,206.65 L192.45,206.65 L192.69,206.65 L192.93,206.65 L193.16,206.65 L193.40,206.65 L193.64,206.65 L193.87,206.65 L194.11,206.65 L194.34,206.65 L194.58,206.65 L194.82,206.65 L195.05,206.65 L195.29,206.65 L195.53,206.65 L195.76,206.65 L196.00,206.65 L196.24,206.65 L196.47,206.65 L196.71,206.65 L196.95,206.65 L197.18,206.65 L197.42,206.65 L197.66,206.65 L197.89,206.65 L198.13,206.65 L198.37,206.65 L198.60,206.65 L198.84,206.65 L199.08,206.65 L199.31,206.65 L199.55,206.65 L199.78,206.65 L200.02,206.65 L200.26,206.65 L200.49,206.65 L200.73,206.65 L200.97,206.65 L201.20,206.65 L201.44,206.65 L201.68,206.65 L201.91,206.65 L202.15,206.65 L202.39,206.65 L202.62,206.65 L202.86,206.65 L203.10,206.65 L203.33,206.65 L203.57,206.65 L203.81,206.65 L204.04,206.65 L204.28,206.65 L204.52,206.65 L204.75,206.65 L204.99,206.65 L205.22,206.65 L205.46,206.65 L205.70,206.65 L205.93,206.65 L206.17,206.65 L206.41,206.65 L206.64,206.65 L206.88,206.65 L207.12,206.65 L207.35,206.65 L207.59,206.65 L207.83,206.65 L208.06,206.65 L208.30,206.65 L208.54,206.65 L208.77,206.65 L209.01,206.65 L209.25,206.65 L209.48,206.65 L209.72,206.65 L209.96,206.65 L210.19,206.65 L210.43,206.65 L210.66,206.65 L210.90,206.65 L211.14,206.65 L211.37,206.65 L211.61,206.65 L211.85,206.65 L212.08,206.65 L212.32,206.65 L212.56,206.65 L212.79,206.65 L213.03,206.65 L213.27,206.65 L213.50,206.65 L213.74,206.65 L213.98,206.65 L214.21,206.65 L214.45,206.65 L214.69,206.65 L214.92,206.65 L215.16,206.65 L215.40,206.65 L215.63,206.65 L215.87,206.65 L216.10,206.65 L216.34,206.65 L216.58,206.65 L216.81,206.65 L217.05,206.65 L217.29,206.65 L217.52,206.65 L217.76,206.65 L218.00,206.65 L218.23,206.65 L218.47,206.65 L218.71,206.65 L218.94,206.65 L219.18,206.65 L219.42,206.65 L219.65,206.65 L219.89,206.65 L220.13,206.65 L220.36,206.65 L220.60,206.65 L220.84,206.65 L221.07,206.65 L221.31,206.65 L221.54,206.65 L221.78,206.65 L222.02,206.65 L222.25,206.65 L222.49,206.65 L222.73,206.65 L222.96,206.65 L223.20,206.65 L223.44,206.65 L223.67,206.65 L223.91,206.65 L224.15,206.65 L224.38,206.65 L224.62,206.65 L224.86,206.65 L225.09,206.65 L225.33,206.65 L225.57,206.65 L225.80,206.65 L226.04,206.65 L226.28,206.65 L226.51,206.65 L226.75,206.65 L226.98,206.65 L227.22,206.65 L227.46,206.65 L227.69,206.65 L227.93,206.65 L228.17,206.65 L228.40,206.65 L228.64,206.65 L228.88,206.65 L229.11,206.65 L229.35,206.65 L229.59,206.65 L229.82,206.65 L230.06,206.65 L230.30,206.65 L230.53,206.65 L230.77,206.65 L231.01,206.65 L231.24,206.65 L231.48,206.65 L231.72,206.65 L231.95,206.65 L232.19,206.65 L232.42,206.65 L232.66,206.65 L232.90,206.65 L233.13,206.65 L233.37,206.65 L233.61,206.65 L233.84,206.65 L234.08,206.65 L234.32,206.65 L234.55,206.65 L234.79,206.65 L235.03,206.65 L235.26,206.65 L235.50,206.65 L235.74,206.65 L235.97,206.65 L236.21,206.65 L236.45,206.65 L236.68,206.65 L236.92,206.65 L237.16,206.65 L237.39,206.65 L237.63,206.65 L237.86,206.65 L238.10,206.65 L238.34,206.65 L238.57,206.65 L238.81,206.65 L239.05,206.65 L239.28,206.65 L239.52,206.65 L239.76,206.65 L239.99,206.65 L240.23,206.65 L240.47,206.65 L240.70,206.65 L240.94,206.65 L241.18,206.65 L241.41,206.65 L241.65,206.65 L241.89,206.65 L242.12,206.65 L242.36,206.65 L242.60,206.65 L242.83,206.65 L243.07,206.65 L243.30,206.65 L243.54,206.65 L243.78,206.65 L244.01,206.65 L244.25,206.65 L244.49,206.65 L244.72,206.65 L244.96,206.65 L245.20,206.65 L245.43,206.65 L245.67,206.65 L245.91,206.65 L246.14,206.65 L246.38,206.65 L246.62,206.65 L246.85,206.65 L247.09,206.65 L247.33,206.65 L247.56,206.65 L247.80,206.65 L248.04,206.65 L248.27,206.65 L248.51,206.65 L248.74,206.65 L248.98,206.65 L249.22,206.65 L249.45,206.65 L249.69,206.65 L249.93,206.65 L250.16,206.65 L250.40,206.65 L250.64,206.65 L250.87,206.65 L251.11,206.65 L251.35,206.65 L251.58,206.65 L251.82,206.65 L252.06,206.65 L252.29,206.65 L252.53,206.65 L252.77,206.65 L253.00,206.65 L253.24,206.65 L253.48,206.65 L253.71,206.65 L253.95,206.65 L254.18,206.65 L254.42,206.65 L254.66,206.65 L254.89,206.65 L255.13,206.65 L255.37,206.65 L255.60,206.65 L255.84,206.65 L256.08,206.65 L256.31,206.65 L256.55,206.65 L256.79,206.65 L257.02,206.65 L257.26,206.65 L257.50,206.65 L257.73,206.65 L257.97,206.65 L258.21,206.65 L258.44,206.65 L258.68,206.65 L258.92,206.65 L259.15,206.65 L259.39,206.65 L259.62,206.65 L259.86,206.65 L260.10,206.65 L260.33,206.65 L260.57,206.65 L260.81,206.65 L261.04,206.65 L261.28,206.65 L261.52,206.65 L261.75,206.65 L261.99,206.65 L262.23,206.65 L262.46,206.65 L262.70,206.65 L262.94,206.65 L263.17,206.65 L263.41,206.65 L263.65,206.65 L263.88,206.65 L264.12,206.65 L264.36,206.65 L264.59,206.65 L264.83,206.65 L265.06,206.65 L265.30,206.65 L265.54,206.65 L265.77,206.65 L266.01,206.65 L266.25,206.65 L266.48,206.65 L266.72,206.65 L266.96,206.65 L267.19,206.65 L267.43,206.65 L267.67,206.65 L267.90,206.65 L268.14,206.65 L268.38,206.65 L268.61,206.65 L268.85,206.65 L269.09,206.65 L269.32,206.65 L269.56,206.65 L269.80,206.65 L270.03,206.65 L270.27,206.65 L270.50,206.65 L270.74,206.65 L270.98,206.65 L271.21,206.65 L271.45,206.65 L271.69,206.65 L271.92,206.65 L272.16,206.65 L272.40,206.65 L272.63,206.65 L272.87,206.65 L273.11,206.65 L273.34,206.65 L273.58,206.65 L273.82,206.65 L274.05,206.65 L274.29,206.65 L274.53,206.65 L274.76,206.65 L275.00,206.65 L275.24,206.65 L275.47,206.65 L275.71,206.65 L275.94,206.65 L276.18,206.65 L276.42,206.65 L276.65,206.65 L276.89,206.65 L277.13,206.65 L277.36,206.65 L277.60,206.65 L277.84,206.65 L278.07,206.65 L278.31,206.65 L278.55,206.65 L278.78,206.65 L279.02,206.65 L279.26,206.65 L279.49,206.65 L279.73,206.65 L279.97,206.65 L280.20,206.65 L280.44,206.65 L280.68,206.65 L280.91,206.65 L281.15,206.65 L281.38,206.65 L281.62,206.65 L281.86,206.65 L282.09,206.65 L282.33,206.65 L282.57,206.65 L282.80,206.65 L283.04,206.65 L283.28,206.65 L283.51,206.65 L283.75,206.65 L283.99,206.65 L284.22,206.65 L284.46,206.65 L284.70,206.65 L284.93,206.65 L285.17,206.65 L285.41,206.65 L285.64,206.65 L285.88,206.65 L286.12,206.65 L286.35,206.65 L286.59,206.65 L286.83,206.65 L287.06,206.65 L287.30,206.65 L287.53,206.65 L287.77,206.65 L288.01,206.65 L288.24,206.65 L288.48,206.65 L288.72,206.65 L288.95,206.65 L289.19,206.65 L289.43,206.65 L289.66,206.65 L289.90,206.65 L290.14,206.65 L290.37,206.65 L290.61,206.65 L290.85,206.65 L291.08,206.65 L291.32,206.65 L291.56,206.65 L291.79,206.65 L292.03,206.65 L292.27,206.65 L292.50,206.65 L292.74,206.65 L292.97,206.65 L293.21,206.65 L293.45,206.65 L293.68,206.65 L293.92,206.65 L294.16,206.65 L294.39,206.65 L294.63,206.65 L294.87,206.65 L295.10,206.65 L295.34,206.65 L295.58,206.65 L295.81,206.65 L296.05,206.65 L296.29,206.65 L296.52,206.65 L296.76,206.65 L297.00,206.65 L297.23,206.65 L297.47,206.65 L297.71,206.65 L297.94,206.65 L298.18,206.65 L298.41,206.65 L298.65,206.65 L298.89,206.65 L299.12,206.65 L299.36,206.65 L299.60,206.65 L299.83,206.65 L300.07,206.65 L300.31,206.65 L300.54,206.65 L300.78,206.65 L301.02,206.65 L301.25,206.65 L301.49,206.65 L301.73,206.65 L301.96,206.65 L302.20,206.65 L302.44,206.65 L302.67,206.65 L302.91,206.65 L303.15,206.65 L303.38,206.65 L303.62,206.65 L303.85,206.65 L304.09,206.65 L304.33,206.65 L304.56,206.65 L304.80,206.65 L305.04,206.65 L305.27,206.65 L305.51,206.65 L305.75,206.65 L305.98,206.65 L306.22,206.65 L306.46,206.65 L306.69,206.65 L306.93,206.65 L307.17,206.65 L307.40,206.65 L307.64,206.65 L307.88,206.65 L308.11,206.65 L308.35,206.65 L308.59,206.65 L308.82,206.65 L309.06,206.65 L309.29,206.65 L309.53,206.65 L309.77,206.64 L310.00,206.64 L310.24,206.64 L310.48,206.64 L310.71,206.64 L310.95,206.64 L311.19,206.64 L311.42,206.64 L311.66,206.64 L311.90,206.63 L312.13,206.63 L312.37,206.63 L312.61,206.63 L312.84,206.62 L313.08,206.62 L313.32,206.62 L313.55,206.61 L313.79,206.61 L314.03,206.60 L314.26,206.60 L314.50,206.59 L314.73,206.58 L314.97,206.58 L315.21,206.57 L315.44,206.56 L315.68,206.54 L315.92,206.53 L316.15,206.52 L316.39,206.50 L316.63,206.48 L316.86,206.46 L317.10,206.43 L317.34,206.41 L317.57,206.38 L317.81,206.34 L318.05,206.30 L318.28,206.26 L318.52,206.21 L318.76,206.16 L318.99,206.09 L319.23,206.02 L319.47,205.94 L319.70,205.86 L319.94,205.76 L320.17,205.64 L320.41,205.52 L320.65,205.38 L320.88,205.22 L321.12,205.04 L321.36,204.84 L321.59,204.61 L321.83,204.35 L322.07,204.07 L322.30,203.75 L322.54,203.39 L322.78,202.99 L323.01,202.53 L323.25,202.03 L323.49,201.46 L323.72,200.83 L323.96,200.12 L324.20,199.33 L324.43,198.44 L324.67,197.46 L324.91,196.36 L325.14,195.14 L325.38,193.79 L325.61,192.29 L325.85,190.63 L326.09,188.80 L326.32,186.78 L326.56,184.56 L326.80,182.14 L327.03,179.48 L327.27,176.60 L327.51,173.46 L327.74,170.08 L327.98,166.43 L328.22,162.53 L328.45,158.37 L328.69,153.95 L328.93,149.29 L329.16,144.41 L329.40,139.31 L329.64,134.03 L329.87,128.60 L330.11,123.04 L330.35,117.40 L330.58,111.71 L330.82,106.01 L331.05,100.34 L331.29,94.75 L331.53,89.26 L331.76,83.91 L332.00,78.74 L332.24,73.77 L332.47,69.02 L332.71,64.50 L332.95,60.23 L333.18,56.22 L333.42,52.48 L333.66,48.98 L333.89,45.75 L334.13,42.76 L334.37,40.02 L334.60,37.50 L334.84,35.20 L335.08,33.10 L335.31,31.20 L335.55,29.47 L335.79,27.91 L336.02,26.50 L336.26,25.22 L336.49,24.08 L336.73,23.05 L336.97,22.13 L337.20,21.30 L337.44,20.56 L337.68,19.89 L337.91,19.30 L338.15,18.77 L338.39,18.29 L338.62,17.87 L338.86,17.50 L339.10,17.16 L339.33,16.86 L339.57,16.59 L339.81,16.36 L340.04,16.14 L340.28,15.96 L340.52,15.79 L340.75,15.64 L340.99,15.51 L341.23,15.39 L341.46,15.29 L341.70,15.19 L341.93,15.11 L342.17,15.04 L342.41,14.97 L342.64,14.91 L342.88,14.86 L343.12,14.81 L343.35,14.77 L343.59,14.74 L343.83,14.71 L344.06,14.68 L344.30,14.65 L344.54,14.63 L344.77,14.61 L345.01,14.59 L345.25,14.58 L345.48,14.56 L345.72,14.55 L345.96,14.54 L346.19,14.53 L346.43,14.52 L346.67,14.51 L346.90,14.50 L347.14,14.50 L347.37,14.49 L347.61,14.49 L347.85,14.48 L348.08,14.48 L348.32,14.48 L348.56,14.47 L348.79,14.47 L349.03,14.47 L349.27,14.47 L349.50,14.46 L349.74,14.46 L349.98,14.46 L350.21,14.46 L350.45,14.46 L350.69,14.46 L350.92,14.46 L351.16,14.46 L351.40,14.46 L351.63,14.46 L351.87,14.45 L352.11,14.45 L352.34,14.45 L352.58,14.45 L352.81,14.45 L353.05,14.45 L353.29,14.45 L353.52,14.45 L353.76,14.45 L354.00,14.45 L354.23,14.45 L354.47,14.45 L354.71,14.45 L354.94,14.45 L355.18,14.45 L355.42,14.45 L355.65,14.45 L355.89,14.45 L356.13,14.45 L356.36,14.45 L356.60,14.45 L356.84,14.45 L357.07,14.45 L357.31,14.45 L357.55,14.45 L357.78,14.45 L358.02,14.45 L358.25,14.45 L358.49,14.45 L358.73,14.45 L358.96,14.45 L359.20,14.45 L359.44,14.45 L359.67,14.45 L359.91,14.45 L360.15,14.45 L360.38,14.45 L360.62,14.45 L360.86,14.45 L361.09,14.45 L361.33,14.45 L361.57,14.45 L361.80,14.45 L362.04,14.45 L362.28,14.45 L362.51,14.45 L362.75,14.45 L362.99,14.45 L363.22,14.45" stroke="#000"/>
<path d="M31.91,69.0 H73.03" stroke="#000"/>
<path d="M31.91,108.8 H71.07" stroke="#f00" stroke-dasharray="3.2 2.0 6.35 2.0"/>
<path d="M31.91,148.2 H73.03" stroke="#00f" stroke-dasharray="7.38 3.09"/>
</g>
<g fill="none" stroke="#3a3a3a">
<path d="M46.480000000000004,3.72 H657.15" stroke-width="0.75"/>
<path d="M46.480000000000004,217.4 H657.15" stroke-width="0.8"/>
<path d="M47.1,3.72 V217.4" stroke-width="1.25"/>
<path d="M656.55,3.72 V217.4" stroke-width="1.2"/>
<path d="M59.25,217.4 v-2.6 M80.54,217.4 v-1.4 M101.83,217.4 v-1.4 M123.12,217.4 v-1.4 M144.41,217.4 v-1.4 M165.70,217.4 v-2.6 M186.99,217.4 v-1.4 M208.28,217.4 v-1.4 M229.57,217.4 v-1.4 M250.86,217.4 v-1.4 M272.15,217.4 v-2.6 M293.44,217.4 v-1.4 M314.73,217.4 v-1.4 M336.02,217.4 v-1.4 M357.31,217.4 v-1.4 M378.60,217.4 v-2.6 M399.89,217.4 v-1.4 M421.18,217.4 v-1.4 M442.47,217.4 v-1.4 M463.76,217.4 v-1.4 M485.05,217.4 v-2.6 M506.34,217.4 v-1.4 M527.63,217.4 v-1.4 M548.92,217.4 v-1.4 M570.21,217.4 v-1.4 M591.50,217.4 v-2.6 M612.79,217.4 v-1.4 M634.08,217.4 v-1.4 M655.37,217.4 v-1.4" stroke-width="1.15"/>
<path d="M59.25,3.72 v3.2 M80.54,3.72 v2.2 M101.83,3.72 v2.2 M123.12,3.72 v2.2 M144.41,3.72 v2.2 M165.70,3.72 v3.2 M186.99,3.72 v2.2 M208.28,3.72 v2.2 M229.57,3.72 v2.2 M250.86,3.72 v2.2 M272.15,3.72 v3.2 M293.44,3.72 v2.2 M314.73,3.72 v2.2 M336.02,3.72 v2.2 M357.31,3.72 v2.2 M378.60,3.72 v3.2 M399.89,3.72 v2.2 M421.18,3.72 v2.2 M442.47,3.72 v2.2 M463.76,3.72 v2.2 M485.05,3.72 v3.2 M506.34,3.72 v2.2 M527.63,3.72 v2.2 M548.92,3.72 v2.2 M570.21,3.72 v2.2 M591.50,3.72 v3.2 M612.79,3.72 v2.2 M634.08,3.72 v2.2 M655.37,3.72 v2.2" stroke-width="0.6"/>
<path d="M47.1,216.26 h2.6 M47.1,206.65 h3.9 M47.1,197.04 h2.6 M47.1,187.43 h2.6 M47.1,177.82 h2.6 M47.1,168.21 h3.9 M47.1,158.60 h2.6 M47.1,148.99 h2.6 M47.1,139.38 h2.6 M47.1,129.77 h3.9 M47.1,120.16 h2.6 M47.1,110.55 h2.6 M47.1,100.94 h2.6 M47.1,91.33 h3.9 M47.1,81.72 h2.6 M47.1,72.11 h2.6 M47.1,62.50 h2.6 M47.1,52.89 h3.9 M47.1,43.28 h2.6 M47.1,33.67 h2.6 M47.1,24.06 h2.6 M47.1,14.45 h3.9 M47.1,4.84 h2.6" stroke-width="0.7"/>
<path d="M656.55,216.26 h-3.0 M656.55,206.65 h-6.2 M656.55,197.04 h-3.0 M656.55,187.43 h-3.0 M656.55,177.82 h-3.0 M656.55,168.21 h-6.2 M656.55,158.60 h-3.0 M656.55,148.99 h-3.0 M656.55,139.38 h-3.0 M656.55,129.77 h-6.2 M656.55,120.16 h-3.0 M656.55,110.55 h-3.0 M656.55,100.94 h-3.0 M656.55,91.33 h-6.2 M656.55,81.72 h-3.0 M656.55,72.11 h-3.0 M656.55,62.50 h-3.0 M656.55,52.89 h-6.2 M656.55,43.28 h-3.0 M656.55,33.67 h-3.0 M656.55,24.06 h-3.0 M656.55,14.45 h-6.2 M656.55,4.84 h-3.0" stroke-width="0.28"/>
</g>
<g style="opacity:0.999">
<text transform="translate(-0.43,211.01) scale(1.813,1) rotate(0.2)" style="font-size:19.26px;font-weight:bold;" fill="#000">0</text>
<text transform="translate(17.99,211.15) scale(1.613,1) rotate(0.2)" style="font-size:17.89px;font-weight:bold;" fill="#000" stroke="#000" stroke-width="0.2" stroke-linejoin="round">.</text>
<text transform="translate(25.13,211.01) scale(1.727,1) rotate(0.2)" style="font-size:19.26px;font-weight:bold;" fill="#000">0</text>
<text transform="translate(-0.43,172.57) scale(1.813,1) rotate(0.2)" style="font-size:19.26px;font-weight:bold;" fill="#000">0</text>
<text transform="translate(17.99,172.71) scale(1.613,1) rotate(0.2)" style="font-size:17.89px;font-weight:bold;" fill="#000" stroke="#000" stroke-width="0.2" stroke-linejoin="round">.</text>
<text transform="translate(25.18,172.66) scale(1.715,1) rotate(0.2)" style="font-size:19.33px;font-weight:bold;" fill="#000" stroke="#000" stroke-width="0.2" stroke-linejoin="round">2</text>
<text transform="translate(-0.43,134.13) scale(1.813,1) rotate(0.2)" style="font-size:19.26px;font-weight:bold;" fill="#000">0</text>
<text transform="translate(17.99,134.27) scale(1.613,1) rotate(0.2)" style="font-size:17.89px;font-weight:bold;" fill="#000" stroke="#000" stroke-width="0.2" stroke-linejoin="round">.</text>
<text transform="translate(24.84,133.67) scale(1.709,1) rotate(0.2)" style="font-size:18.46px;font-weight:bold;" fill="#000" stroke="#000" stroke-width="0.2" stroke-linejoin="round">4</text>
<text transform="translate(-0.43,95.69) scale(1.813,1) rotate(0.2)" style="font-size:19.26px;font-weight:bold;" fill="#000">0</text>
<text transform="translate(17.99,95.83) scale(1.613,1) rotate(0.2)" style="font-size:17.89px;font-weight:bold;" fill="#000" stroke="#000" stroke-width="0.2" stroke-linejoin="round">.</text>
<text transform="translate(25.49,95.59) scale(1.656,1) rotate(0.2)" style="font-size:19.05px;font-weight:bold;" fill="#000" stroke="#000" stroke-width="0.2" stroke-linejoin="round">6</text>
<text transform="translate(-0.43,57.25) scale(1.813,1) rotate(0.2)" style="font-size:19.26px;font-weight:bold;" fill="#000">0</text>
<text transform="translate(17.99,57.39) scale(1.613,1) rotate(0.2)" style="font-size:17.89px;font-weight:bold;" fill="#000" stroke="#000" stroke-width="0.2" stroke-linejoin="round">.</text>
<text transform="translate(25.51,57.15) scale(1.674,1) rotate(0.2)" style="font-size:18.97px;font-weight:bold;" fill="#000" stroke="#000" stroke-width="0.2" stroke-linejoin="round">8</text>
<text transform="translate(-0.57,18.80) scale(1.730,1) rotate(0.2)" style="font-size:19.09px;font-weight:bold;" fill="#000" stroke="#000" stroke-width="0.2" stroke-linejoin="round">1</text>
<text transform="translate(17.99,18.95) scale(1.613,1) rotate(0.2)" style="font-size:17.89px;font-weight:bold;" fill="#000" stroke="#000" stroke-width="0.2" stroke-linejoin="round">.</text>
<text transform="translate(25.13,18.81) scale(1.727,1) rotate(0.2)" style="font-size:19.26px;font-weight:bold;" fill="#000">0</text>
<path d="M33.30,229.6 H49.95" stroke="#111" stroke-width="1.05"/>
<text transform="translate(54.43,234.51) scale(1.670,1) rotate(0.2)" style="font-size:19.26px;font-weight:bold;" fill="#000" stroke="#000" stroke-width="0.2" stroke-linejoin="round">5</text>
<text transform="translate(70.47,234.61) scale(1.819,1) rotate(0.2)" style="font-size:19.26px;font-weight:bold;" fill="#000">0</text>
<path d="M139.75,229.6 H156.40" stroke="#111" stroke-width="1.05"/>
<text transform="translate(160.79,234.20) scale(1.680,1) rotate(0.2)" style="font-size:18.54px;font-weight:bold;" fill="#000" stroke="#000" stroke-width="0.2" stroke-linejoin="round">4</text>
<text transform="translate(176.92,234.61) scale(1.819,1) rotate(0.2)" style="font-size:19.26px;font-weight:bold;" fill="#000">0</text>
<path d="M246.20,229.6 H262.85" stroke="#111" stroke-width="1.05"/>
<text transform="translate(267.42,234.51) scale(1.669,1) rotate(0.2)" style="font-size:19.05px;font-weight:bold;" fill="#000" stroke="#000" stroke-width="0.2" stroke-linejoin="round">3</text>
<text transform="translate(283.37,234.61) scale(1.819,1) rotate(0.2)" style="font-size:19.26px;font-weight:bold;" fill="#000">0</text>
<path d="M352.65,229.6 H369.30" stroke="#111" stroke-width="1.05"/>
<text transform="translate(373.69,234.70) scale(1.696,1) rotate(0.2)" style="font-size:19.33px;font-weight:bold;" fill="#000" stroke="#000" stroke-width="0.2" stroke-linejoin="round">2</text>
<text transform="translate(389.82,234.61) scale(1.819,1) rotate(0.2)" style="font-size:19.26px;font-weight:bold;" fill="#000">0</text>
<path d="M459.10,229.6 H475.75" stroke="#111" stroke-width="1.05"/>
<text transform="translate(479.96,234.20) scale(1.735,1) rotate(0.2)" style="font-size:18.48px;font-weight:bold;" fill="#000" stroke="#000" stroke-width="0.2" stroke-linejoin="round">1</text>
<text transform="translate(496.27,234.61) scale(1.819,1) rotate(0.2)" style="font-size:19.26px;font-weight:bold;" fill="#000">0</text>
<text transform="translate(582.87,234.61) scale(1.819,1) rotate(0.2)" style="font-size:19.26px;font-weight:bold;" fill="#000">0</text>
<text transform="translate(146.75,74.50) scale(1.618,1) rotate(0.2)" style="font-size:18.50px;" fill="#000">Ω</text>
<text transform="translate(146.75,114.50) scale(1.618,1) rotate(0.2)" style="font-size:18.50px;" fill="#000">Ω</text>
<text transform="translate(146.75,154.50) scale(1.579,1) rotate(0.2)" style="font-size:18.95px;" fill="#000">Ω</text>
<text transform="translate(170.06,77.58) scale(1.958,1) rotate(0.2)" style="font-size:11.88px;font-style:italic;" fill="#000">D</text>
<text transform="translate(187.92,77.60) scale(2.270,1) rotate(0.2)" style="font-size:11.91px;font-style:italic;" fill="#000">E</text>
<text transform="translate(168.12,117.20) scale(2.210,1) rotate(0.2)" style="font-size:12.10px;font-style:italic;" fill="#000">r</text>
<text transform="translate(168.13,157.20) scale(2.452,1) rotate(0.2)" style="font-size:12.10px;font-style:italic;" fill="#000">m</text>
<path d="M262.2,257.95 H284.6" stroke="#2a2a2a" stroke-width="1"/>
<text transform="translate(294.41,263.35) scale(1.509,1) rotate(0.2)" style="font-size:21.19px;" fill="#000">l</text>
<text transform="translate(303.29,263.35) scale(1.877,1) rotate(0.2)" style="font-size:19.95px;" fill="#000">n</text>
<text transform="translate(325.64,263.54) scale(1.554,1) rotate(0.2)" style="font-size:23.55px;" fill="#000">(</text>
<text transform="translate(337.63,263.45) scale(1.617,1) rotate(0.2)" style="font-size:21.96px;" fill="#000">1</text>
<path d="M366.0,257.65 H389.7 M378.2,250.6 V264.7" stroke="#2a2a2a" stroke-width="0.95" fill="none"/>
<text transform="translate(402.07,263.45) scale(2.028,1) rotate(0.2)" style="font-size:20.70px;font-style:italic;" fill="#222">z</text>
<text transform="translate(417.49,267.25) scale(1.805,1) rotate(0.2)" style="font-size:15.92px;font-style:italic;" fill="#000">r</text>
<text transform="translate(431.15,263.64) scale(1.486,1) rotate(0.2)" style="font-size:23.05px;" fill="#000">)</text>
</g>
</svg></body></html>
